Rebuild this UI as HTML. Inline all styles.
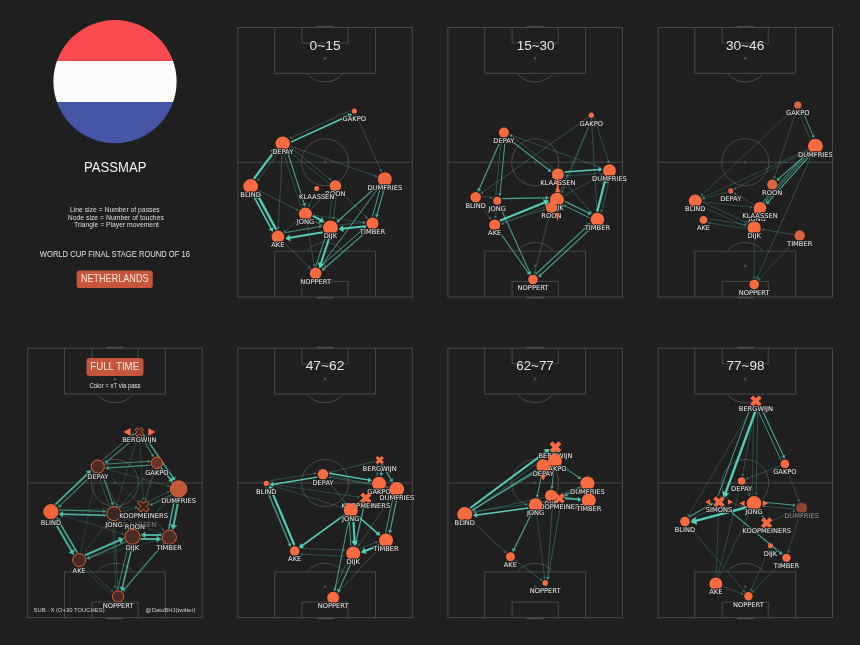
<!DOCTYPE html>
<html><head><meta charset="utf-8"><title>Passmap</title>
<style>html,body{margin:0;padding:0;background:#1f1f1f;overflow:hidden}svg{display:block;will-change:transform}text{font-family:"DejaVu Sans","Liberation Sans",sans-serif}</style>
</head><body>
<svg width="860" height="645" viewBox="0 0 860 645">
<rect width="860" height="645" fill="#1f1f1f"/>
<defs><clipPath id="fc"><circle cx="115" cy="81.6" r="61.6"/></clipPath></defs>
<g clip-path="url(#fc)"><rect x="50" y="18" width="130" height="43.2" fill="#f94b50"/><rect x="50" y="61" width="130" height="41.2" fill="#fbfbfb"/><rect x="50" y="102" width="130" height="45" fill="#4655a5"/></g>
<rect x="27.7" y="348.2" width="174.5" height="269.5" fill="none" stroke="#494949" stroke-width="1.0"/>
<line x1="27.7" y1="482.95" x2="202.2" y2="482.95" fill="none" stroke="#494949" stroke-width="1.0"/>
<circle cx="114.95" cy="482.95" r="23.5" fill="none" stroke="#494949" stroke-width="1.0"/>
<circle cx="114.95" cy="482.95" r="1.4" fill="#494949"/>
<path d="M64.52,348.2 L64.52,394.01 L165.38,394.01 L165.38,348.2" fill="none" stroke="#494949" stroke-width="1.0"/>
<path d="M91.92,348.2 L91.92,363.83 L137.98,363.83 L137.98,348.2" fill="none" stroke="#494949" stroke-width="1.0"/>
<circle cx="114.95" cy="379.19" r="1.4" fill="#494949"/>
<path d="M96.71,394.01 A23.5,23.5 0 0 0 133.19,394.01" fill="none" stroke="#494949" stroke-width="1.0"/>
<line x1="106.57" y1="347.6" x2="123.33" y2="347.6" stroke="#494949" stroke-width="2"/>
<path d="M64.52,617.7 L64.52,571.88 L165.38,571.88 L165.38,617.7" fill="none" stroke="#494949" stroke-width="1.0"/>
<path d="M91.92,617.7 L91.92,602.07 L137.98,602.07 L137.98,617.7" fill="none" stroke="#494949" stroke-width="1.0"/>
<circle cx="114.95" cy="586.71" r="1.4" fill="#494949"/>
<path d="M96.71,571.88 A23.5,23.5 0 0 1 133.19,571.88" fill="none" stroke="#494949" stroke-width="1.0"/>
<line x1="106.57" y1="618.3" x2="123.33" y2="618.3" stroke="#494949" stroke-width="2"/>
<line x1="137.07" y1="436.37" x2="106.32" y2="462.08" stroke="#56d8bf" stroke-width="1.2" stroke-opacity="0.5576"/><polygon points="104.61,463.52 108.47,463.15 105.65,459.78" fill="#56d8bf" fill-opacity="0.5576"/>
<line x1="102.19" y1="460.32" x2="133.15" y2="434.43" stroke="#56d8bf" stroke-width="0.9" stroke-opacity="0.5576"/><polygon points="134.66,433.18 131.39,433.63 133.63,436.31" fill="#56d8bf" fill-opacity="0.5576"/>
<line x1="141.57" y1="435.88" x2="152.81" y2="455.62" stroke="#56d8bf" stroke-width="0.9" stroke-opacity="0.5576"/><polygon points="153.78,457.33 153.92,454.03 150.88,455.76" fill="#56d8bf" fill-opacity="0.5576"/>
<line x1="143.54" y1="434.54" x2="173.83" y2="478.54" stroke="#56d8bf" stroke-width="1.4" stroke-opacity="0.7789999999999999"/><polygon points="175.26,480.62 175.28,476.23 171.16,479.07" fill="#56d8bf" fill-opacity="0.7789999999999999"/>
<line x1="171.85" y1="482.72" x2="141.25" y2="438.26" stroke="#56d8bf" stroke-width="0.8" stroke-opacity="0.3116"/><polygon points="140.14,436.64 140.41,439.86 143.04,438.04" fill="#56d8bf" fill-opacity="0.3116"/>
<line x1="150.54" y1="465.21" x2="107.49" y2="467.98" stroke="#56d8bf" stroke-width="1.3" stroke-opacity="0.5576"/><polygon points="105.11,468.13 108.66,470.26 108.36,465.57" fill="#56d8bf" fill-opacity="0.5576"/>
<line x1="105.06" y1="464.13" x2="148.53" y2="461.33" stroke="#56d8bf" stroke-width="1.0" stroke-opacity="0.5576"/><polygon points="150.48,461.21 147.57,459.49 147.81,463.28" fill="#56d8bf" fill-opacity="0.5576"/>
<line x1="161.05" y1="467.81" x2="171.2" y2="480.07" stroke="#56d8bf" stroke-width="1.6" stroke-opacity="0.7789999999999999"/><polygon points="172.99,482.22 172.59,477.36 168.28,480.93" fill="#56d8bf" fill-opacity="0.7789999999999999"/>
<line x1="55.28" y1="504.71" x2="89" y2="472.28" stroke="#56d8bf" stroke-width="1.8" stroke-opacity="0.7789999999999999"/><polygon points="91.22,470.15 85.9,470.96 90.2,475.43" fill="#56d8bf" fill-opacity="0.7789999999999999"/>
<line x1="93.85" y1="473.17" x2="59.52" y2="506.18" stroke="#56d8bf" stroke-width="1.2" stroke-opacity="0.5576"/><polygon points="57.91,507.74 61.74,507.1 58.69,503.93" fill="#56d8bf" fill-opacity="0.5576"/>
<line x1="102.09" y1="472.96" x2="112.56" y2="503.61" stroke="#56d8bf" stroke-width="1.3" stroke-opacity="0.5576"/><polygon points="113.33,505.86 114.46,501.88 110.01,503.4" fill="#56d8bf" fill-opacity="0.5576"/>
<line x1="109.48" y1="506.97" x2="98.87" y2="475.91" stroke="#56d8bf" stroke-width="0.8" stroke-opacity="0.3116"/><polygon points="98.24,474.06 97.63,477.23 100.66,476.19" fill="#56d8bf" fill-opacity="0.3116"/>
<line x1="106.04" y1="515.45" x2="61.71" y2="514.04" stroke="#56d8bf" stroke-width="1.8" stroke-opacity="0.7789999999999999"/><polygon points="58.63,513.95 62.93,517.18 63.13,510.99" fill="#56d8bf" fill-opacity="0.7789999999999999"/>
<line x1="58.96" y1="509.95" x2="104.13" y2="511.39" stroke="#56d8bf" stroke-width="1.2" stroke-opacity="0.5576"/><polygon points="106.37,511.46 103.24,509.16 103.1,513.56" fill="#56d8bf" fill-opacity="0.5576"/>
<line x1="53.22" y1="519.61" x2="72.19" y2="551.99" stroke="#56d8bf" stroke-width="2.0" stroke-opacity="0.7789999999999999"/><polygon points="73.89,554.89 74.39,549.02 68.52,552.46" fill="#56d8bf" fill-opacity="0.7789999999999999"/>
<line x1="77.24" y1="552.69" x2="57.98" y2="519.83" stroke="#56d8bf" stroke-width="1.6" stroke-opacity="0.7789999999999999"/><polygon points="56.57,517.42 56.18,522.29 61.01,519.45" fill="#56d8bf" fill-opacity="0.7789999999999999"/>
<line x1="85.09" y1="555.25" x2="120.75" y2="539.7" stroke="#56d8bf" stroke-width="2.2" stroke-opacity="0.7789999999999999"/><polygon points="124.08,538.24 117.84,536.93 120.8,543.71" fill="#56d8bf" fill-opacity="0.7789999999999999"/>
<line x1="125.5" y1="541.99" x2="88.69" y2="558.04" stroke="#56d8bf" stroke-width="1.3" stroke-opacity="0.5576"/><polygon points="86.51,559 90.56,559.79 88.68,555.48" fill="#56d8bf" fill-opacity="0.5576"/>
<line x1="140.78" y1="538.89" x2="158.02" y2="539.08" stroke="#56d8bf" stroke-width="2.0" stroke-opacity="0.7789999999999999"/><polygon points="161.38,539.12 156.62,535.66 156.54,542.46" fill="#56d8bf" fill-opacity="0.7789999999999999"/>
<line x1="161.22" y1="535.11" x2="143.98" y2="534.93" stroke="#56d8bf" stroke-width="2.0" stroke-opacity="0.7789999999999999"/><polygon points="140.62,534.89 145.38,538.34 145.46,531.54" fill="#56d8bf" fill-opacity="0.7789999999999999"/>
<line x1="178.84" y1="498.22" x2="173.35" y2="526.35" stroke="#56d8bf" stroke-width="2.2" stroke-opacity="0.7789999999999999"/><polygon points="172.66,529.93 177.28,525.53 170.02,524.11" fill="#56d8bf" fill-opacity="0.7789999999999999"/>
<line x1="168.77" y1="528.97" x2="174.47" y2="499.73" stroke="#56d8bf" stroke-width="1.4" stroke-opacity="0.7789999999999999"/><polygon points="174.95,497.25 171.81,500.31 176.72,501.27" fill="#56d8bf" fill-opacity="0.7789999999999999"/>
<line x1="171.42" y1="494.78" x2="151.3" y2="504.73" stroke="#56d8bf" stroke-width="1.0" stroke-opacity="0.5576"/><polygon points="149.54,505.59 152.89,506.06 151.21,502.65" fill="#56d8bf" fill-opacity="0.5576"/>
<line x1="147.95" y1="501.92" x2="168.07" y2="491.97" stroke="#56d8bf" stroke-width="0.8" stroke-opacity="0.3116"/><polygon points="169.82,491.11 166.61,490.91 168.02,493.78" fill="#56d8bf" fill-opacity="0.3116"/>
<line x1="132.39" y1="545.43" x2="122.13" y2="588.35" stroke="#56d8bf" stroke-width="1.5" stroke-opacity="0.7789999999999999"/><polygon points="121.51,590.94 124.97,587.86 119.82,586.63" fill="#56d8bf" fill-opacity="0.7789999999999999"/>
<line x1="117.67" y1="589.81" x2="128.09" y2="546.22" stroke="#56d8bf" stroke-width="0.9" stroke-opacity="0.5576"/><polygon points="128.55,544.31 126.19,546.63 129.6,547.44" fill="#56d8bf" fill-opacity="0.5576"/>
<line x1="163.98" y1="543.26" x2="123.76" y2="590.02" stroke="#56d8bf" stroke-width="1.3" stroke-opacity="0.5576"/><polygon points="122.21,591.82 126.21,590.78 122.64,587.71" fill="#56d8bf" fill-opacity="0.5576"/>
<line x1="114.29" y1="521.49" x2="117.68" y2="588.35" stroke="#56d8bf" stroke-width="0.8" stroke-opacity="0.3116"/><polygon points="117.78,590.31 119.24,587.43 116.04,587.59" fill="#56d8bf" fill-opacity="0.3116"/>
<line x1="84.52" y1="565" x2="112.08" y2="590.94" stroke="#56d8bf" stroke-width="0.7" stroke-opacity="0.3116"/><polygon points="113.51,592.28 112.57,589.2 110.38,591.53" fill="#56d8bf" fill-opacity="0.3116"/>
<line x1="101.07" y1="473.24" x2="127.91" y2="527.69" stroke="#56d8bf" stroke-width="0.7" stroke-opacity="0.3116"/><polygon points="128.77,529.44 128.97,526.23 126.1,527.64" fill="#56d8bf" fill-opacity="0.3116"/>
<line x1="118.78" y1="519.79" x2="126.05" y2="528.87" stroke="#56d8bf" stroke-width="0.8" stroke-opacity="0.3116"/><polygon points="127.27,530.4 126.77,527.21 124.27,529.21" fill="#56d8bf" fill-opacity="0.3116"/>
<line x1="58.55" y1="514.05" x2="122.69" y2="533.81" stroke="#56d8bf" stroke-width="0.6" stroke-opacity="0.3116"/><polygon points="124.56,534.39 122.36,532.03 121.42,535.09" fill="#56d8bf" fill-opacity="0.3116"/>
<line x1="152.71" y1="467.77" x2="120.07" y2="506.4" stroke="#56d8bf" stroke-width="0.7" stroke-opacity="0.3116"/><polygon points="118.8,507.89 121.83,506.79 119.39,504.72" fill="#56d8bf" fill-opacity="0.3116"/>
<line x1="137.94" y1="436.27" x2="116.73" y2="504.57" stroke="#56d8bf" stroke-width="0.6" stroke-opacity="0.3116"/><polygon points="116.15,506.44 118.51,504.24 115.46,503.29" fill="#56d8bf" fill-opacity="0.3116"/>
<line x1="139.56" y1="436.47" x2="143.16" y2="498.71" stroke="#56d8bf" stroke-width="0.6" stroke-opacity="0.3116"/><polygon points="143.27,500.67 144.71,497.78 141.52,497.97" fill="#56d8bf" fill-opacity="0.3116"/>
<line x1="172.35" y1="495.47" x2="139.46" y2="529.49" stroke="#56d8bf" stroke-width="0.8" stroke-opacity="0.3116"/><polygon points="138.1,530.9 141.2,530 138.89,527.78" fill="#56d8bf" fill-opacity="0.3116"/>
<line x1="121.47" y1="511.81" x2="136.23" y2="508.14" stroke="#56d8bf" stroke-width="0.6" stroke-opacity="0.3116"/><polygon points="138.13,507.66 135.02,506.79 135.8,509.89" fill="#56d8bf" fill-opacity="0.3116"/>
<line x1="83.58" y1="554.16" x2="108.17" y2="521.35" stroke="#56d8bf" stroke-width="0.6" stroke-opacity="0.3116"/><polygon points="109.34,519.78 106.38,521.06 108.94,522.98" fill="#56d8bf" fill-opacity="0.3116"/>
<line x1="80.63" y1="552.84" x2="96.01" y2="475.58" stroke="#56d8bf" stroke-width="0.5" stroke-opacity="0.3116"/><polygon points="96.39,473.66 94.28,476.09 97.42,476.72" fill="#56d8bf" fill-opacity="0.3116"/>
<line x1="104.93" y1="468.58" x2="168.23" y2="486.13" stroke="#56d8bf" stroke-width="0.6" stroke-opacity="0.3116"/><polygon points="170.12,486.65 167.85,484.36 166.99,487.44" fill="#56d8bf" fill-opacity="0.3116"/>
<line x1="155" y1="469.02" x2="145.82" y2="499.03" stroke="#56d8bf" stroke-width="0.6" stroke-opacity="0.3116"/><polygon points="145.25,500.91 147.6,498.7 144.54,497.76" fill="#56d8bf" fill-opacity="0.3116"/>
<line x1="121.08" y1="516.75" x2="160.22" y2="533.38" stroke="#56d8bf" stroke-width="0.6" stroke-opacity="0.3116"/><polygon points="162.02,534.15 160.07,531.58 158.82,534.53" fill="#56d8bf" fill-opacity="0.3116"/>
<line x1="147.33" y1="510.8" x2="162.97" y2="529.68" stroke="#56d8bf" stroke-width="0.7" stroke-opacity="0.3116"/><polygon points="164.22,531.19 163.67,528.02 161.21,530.06" fill="#56d8bf" fill-opacity="0.3116"/>
<line x1="111.31" y1="594.33" x2="83.74" y2="568.39" stroke="#56d8bf" stroke-width="0.6" stroke-opacity="0.3116"/><polygon points="82.32,567.05 83.26,570.13 85.45,567.8" fill="#56d8bf" fill-opacity="0.3116"/>
<line x1="103.39" y1="471.45" x2="137.86" y2="501.32" stroke="#56d8bf" stroke-width="0.5" stroke-opacity="0.3116"/><polygon points="139.34,502.61 138.27,499.56 136.17,501.98" fill="#56d8bf" fill-opacity="0.3116"/>
<line x1="58.89" y1="511.23" x2="136.01" y2="506.74" stroke="#56d8bf" stroke-width="0.5" stroke-opacity="0.3116"/><polygon points="137.97,506.63 135.08,505.19 135.27,508.39" fill="#56d8bf" fill-opacity="0.3116"/>
<line x1="86.28" y1="558.21" x2="159.74" y2="539.6" stroke="#56d8bf" stroke-width="0.5" stroke-opacity="0.3116"/><polygon points="161.64,539.12 158.53,538.25 159.32,541.35" fill="#56d8bf" fill-opacity="0.3116"/>
<line x1="115.77" y1="590.21" x2="112.39" y2="523.35" stroke="#56d8bf" stroke-width="0.5" stroke-opacity="0.3116"/><polygon points="112.29,521.39 110.83,524.27 114.03,524.11" fill="#56d8bf" fill-opacity="0.3116"/>
<line x1="154.86" y1="468.97" x2="135.59" y2="527.15" stroke="#56d8bf" stroke-width="0.5" stroke-opacity="0.3116"/><polygon points="134.98,529.02 137.38,526.86 134.34,525.85" fill="#56d8bf" fill-opacity="0.3116"/>
<text x="138.5" y="526.61" font-size="6.7" fill="#8a8a8a" text-anchor="middle" stroke="#1f1f1f" stroke-width="2" paint-order="stroke" stroke-linejoin="round">KLAASSEN</text>
<text x="134.9" y="529.41" font-size="6.7" fill="#eaeaea" text-anchor="middle" stroke="#1f1f1f" stroke-width="2" paint-order="stroke" stroke-linejoin="round">ROON</text>
<circle cx="97.8" cy="466.6" r="6.6" fill="#4b2a22" stroke="#e8603a" stroke-width="1"/>
<text x="97.8" y="479.21" font-size="6.7" fill="#efefef" text-anchor="middle" stroke="#1f1f1f" stroke-width="2" paint-order="stroke" stroke-linejoin="round">DEPAY</text>
<circle cx="156.9" cy="462.8" r="5.7" fill="#6b3526" stroke="#e8603a" stroke-width="1"/>
<text x="156.9" y="474.51" font-size="6.7" fill="#efefef" text-anchor="middle" stroke="#1f1f1f" stroke-width="2" paint-order="stroke" stroke-linejoin="round">GAKPO</text>
<circle cx="178.6" cy="489" r="8.2" fill="#c0583a" stroke="#e8603a" stroke-width="1"/>
<text x="178.6" y="503.21" font-size="6.7" fill="#efefef" text-anchor="middle" stroke="#1f1f1f" stroke-width="2" paint-order="stroke" stroke-linejoin="round">DUMFRIES</text>
<circle cx="50.9" cy="511.7" r="7.2" fill="#f0643c" stroke="#e8603a" stroke-width="1"/>
<text x="50.9" y="524.91" font-size="6.7" fill="#efefef" text-anchor="middle" stroke="#1f1f1f" stroke-width="2" paint-order="stroke" stroke-linejoin="round">BLIND</text>
<circle cx="113.9" cy="513.7" r="7" fill="#3a2620" stroke="#e8603a" stroke-width="1"/>
<text x="113.9" y="526.71" font-size="6.7" fill="#efefef" text-anchor="middle" stroke="#1f1f1f" stroke-width="2" paint-order="stroke" stroke-linejoin="round">JONG</text>
<circle cx="132.4" cy="536.8" r="7.6" fill="#4a2e25" stroke="#e8603a" stroke-width="1"/>
<text x="132.4" y="550.41" font-size="6.7" fill="#efefef" text-anchor="middle" stroke="#1f1f1f" stroke-width="2" paint-order="stroke" stroke-linejoin="round">DIJK</text>
<circle cx="169.2" cy="537.2" r="7.2" fill="#4a2e25" stroke="#e8603a" stroke-width="1"/>
<text x="169.2" y="550.41" font-size="6.7" fill="#efefef" text-anchor="middle" stroke="#1f1f1f" stroke-width="2" paint-order="stroke" stroke-linejoin="round">TIMBER</text>
<circle cx="79.2" cy="560" r="6.5" fill="#4a2a22" stroke="#e8603a" stroke-width="1"/>
<text x="79.2" y="572.51" font-size="6.7" fill="#efefef" text-anchor="middle" stroke="#1f1f1f" stroke-width="2" paint-order="stroke" stroke-linejoin="round">AKE</text>
<circle cx="118.1" cy="596.6" r="5.7" fill="#4a2a22" stroke="#e8603a" stroke-width="1"/>
<text x="118.1" y="608.31" font-size="6.7" fill="#efefef" text-anchor="middle" stroke="#1f1f1f" stroke-width="2" paint-order="stroke" stroke-linejoin="round">NOPPERT</text>
<polygon points="141.42,427.66 143.54,429.78 141.42,431.9 143.54,434.02 141.42,436.14 139.3,434.02 137.18,436.14 135.06,434.02 137.18,431.9 135.06,429.78 137.18,427.66 139.3,429.78" fill="#3a2620" stroke="#e8603a" stroke-width="1" stroke-linejoin="miter"/>
<text x="139.3" y="442.11" font-size="6.7" fill="#efefef" text-anchor="middle" stroke="#1f1f1f" stroke-width="2" paint-order="stroke" stroke-linejoin="round">BERGWIJN</text>
<polygon points="146.43,500.64 149.26,503.47 146.43,506.3 149.26,509.13 146.43,511.96 143.6,509.13 140.77,511.96 137.94,509.13 140.77,506.3 137.94,503.47 140.77,500.64 143.6,503.47" fill="#3a2620" stroke="#e8603a" stroke-width="1" stroke-linejoin="miter"/>
<text x="143.6" y="518.11" font-size="6.7" fill="#efefef" text-anchor="middle" stroke="#1f1f1f" stroke-width="2" paint-order="stroke" stroke-linejoin="round">KOOPMEINERS</text>
<polygon points="123.4,432 130.6,428 130.6,436" fill="#f86b40"/>
<polygon points="155.5,432 148.3,428 148.3,436" fill="#f86b40"/>
<rect x="237.8" y="27.5" width="174.5" height="269.5" fill="none" stroke="#494949" stroke-width="1.0"/>
<line x1="237.8" y1="162.25" x2="412.3" y2="162.25" fill="none" stroke="#494949" stroke-width="1.0"/>
<circle cx="325.05" cy="162.25" r="23.5" fill="none" stroke="#494949" stroke-width="1.0"/>
<circle cx="325.05" cy="162.25" r="1.4" fill="#494949"/>
<path d="M274.62,27.5 L274.62,73.31 L375.48,73.31 L375.48,27.5" fill="none" stroke="#494949" stroke-width="1.0"/>
<path d="M302.02,27.5 L302.02,43.13 L348.08,43.13 L348.08,27.5" fill="none" stroke="#494949" stroke-width="1.0"/>
<circle cx="325.05" cy="58.49" r="1.4" fill="#494949"/>
<path d="M306.81,73.31 A23.5,23.5 0 0 0 343.29,73.31" fill="none" stroke="#494949" stroke-width="1.0"/>
<line x1="316.67" y1="26.9" x2="333.43" y2="26.9" stroke="#494949" stroke-width="2"/>
<path d="M274.62,297 L274.62,251.19 L375.48,251.19 L375.48,297" fill="none" stroke="#494949" stroke-width="1.0"/>
<path d="M302.02,297 L302.02,281.37 L348.08,281.37 L348.08,297" fill="none" stroke="#494949" stroke-width="1.0"/>
<circle cx="325.05" cy="266.01" r="1.4" fill="#494949"/>
<path d="M306.81,251.19 A23.5,23.5 0 0 1 343.29,251.19" fill="none" stroke="#494949" stroke-width="1.0"/>
<line x1="316.67" y1="297.6" x2="333.43" y2="297.6" stroke="#494949" stroke-width="2"/>
<text x="309.6" y="49.5" font-size="12" fill="#e8e8e8" textLength="31" lengthAdjust="spacingAndGlyphs" stroke="#1f1f1f" stroke-width="1.6" paint-order="stroke" style="font-family:'Liberation Sans',sans-serif">0~15</text>
<line x1="253.86" y1="178.72" x2="274.24" y2="151.55" stroke="#56d8bf" stroke-width="2.2" stroke-opacity="0.95"/><polygon points="276.42,148.64 270.34,150.58 276.26,155.02" fill="#56d8bf" fill-opacity="0.95"/>
<line x1="279.5" y1="151.2" x2="258.12" y2="179.71" stroke="#56d8bf" stroke-width="0.8" stroke-opacity="0.38"/><polygon points="256.94,181.28 259.9,180 257.34,178.08" fill="#56d8bf" fill-opacity="0.38"/>
<line x1="252.69" y1="194.48" x2="271.59" y2="229.44" stroke="#56d8bf" stroke-width="1.5" stroke-opacity="0.95"/><polygon points="272.86,231.78 273.38,227.18 268.72,229.7" fill="#56d8bf" fill-opacity="0.95"/>
<line x1="276.28" y1="229.7" x2="257.98" y2="195.85" stroke="#56d8bf" stroke-width="2.4" stroke-opacity="0.95"/><polygon points="256.12,192.4 255.26,199.23 262.3,195.42" fill="#56d8bf" fill-opacity="0.95"/>
<line x1="290.81" y1="142.11" x2="349.67" y2="115.31" stroke="#56d8bf" stroke-width="1.6" stroke-opacity="0.95"/><polygon points="352.22,114.15 347.42,113.26 349.74,118.35" fill="#56d8bf" fill-opacity="0.95"/>
<line x1="350.38" y1="110.59" x2="290.75" y2="137.74" stroke="#56d8bf" stroke-width="0.7" stroke-opacity="0.38"/><polygon points="288.97,138.55 292.18,138.84 290.86,135.93" fill="#56d8bf" fill-opacity="0.38"/>
<line x1="355.69" y1="114.1" x2="380.9" y2="170.57" stroke="#56d8bf" stroke-width="0.7" stroke-opacity="0.38"/><polygon points="381.7,172.36 382.02,169.15 379.1,170.46" fill="#56d8bf" fill-opacity="0.38"/>
<line x1="290.25" y1="146.24" x2="375.78" y2="176.14" stroke="#56d8bf" stroke-width="0.7" stroke-opacity="0.38"/><polygon points="377.63,176.79 375.51,174.36 374.45,177.38" fill="#56d8bf" fill-opacity="0.38"/>
<line x1="290.19" y1="147.06" x2="330.14" y2="179.2" stroke="#56d8bf" stroke-width="0.7" stroke-opacity="0.38"/><polygon points="331.67,180.43 330.49,177.43 328.48,179.92" fill="#56d8bf" fill-opacity="0.38"/>
<line x1="329" y1="183.42" x2="289.05" y2="151.28" stroke="#56d8bf" stroke-width="0.6" stroke-opacity="0.38"/><polygon points="287.52,150.05 288.7,153.05 290.71,150.56" fill="#56d8bf" fill-opacity="0.38"/>
<line x1="287.06" y1="150.6" x2="304.44" y2="204.5" stroke="#56d8bf" stroke-width="1.2" stroke-opacity="0.68"/><polygon points="305.12,206.63 306.24,202.91 302.05,204.26" fill="#56d8bf" fill-opacity="0.68"/>
<line x1="301.26" y1="207.67" x2="283.79" y2="153.5" stroke="#56d8bf" stroke-width="0.6" stroke-opacity="0.38"/><polygon points="283.19,151.64 282.53,154.79 285.57,153.81" fill="#56d8bf" fill-opacity="0.38"/>
<line x1="282.29" y1="151.59" x2="278.36" y2="228.05" stroke="#56d8bf" stroke-width="0.7" stroke-opacity="0.38"/><polygon points="278.25,230.01 280,227.3 276.8,227.13" fill="#56d8bf" fill-opacity="0.38"/>
<line x1="257.83" y1="190.04" x2="297.31" y2="209.92" stroke="#56d8bf" stroke-width="0.7" stroke-opacity="0.38"/><polygon points="299.06,210.81 297.28,208.12 295.84,210.98" fill="#56d8bf" fill-opacity="0.38"/>
<line x1="312.76" y1="215.78" x2="321.42" y2="220.56" stroke="#56d8bf" stroke-width="2.0" stroke-opacity="0.95"/><polygon points="324.36,222.18 321.8,216.89 318.52,222.84" fill="#56d8bf" fill-opacity="0.95"/>
<line x1="322.25" y1="225.59" x2="312.37" y2="220.13" stroke="#56d8bf" stroke-width="0.9" stroke-opacity="0.68"/><polygon points="310.65,219.18 312.25,222.07 313.95,219" fill="#56d8bf" fill-opacity="0.68"/>
<line x1="310.74" y1="209.02" x2="329.29" y2="191.7" stroke="#56d8bf" stroke-width="0.8" stroke-opacity="0.38"/><polygon points="330.72,190.37 327.58,191.11 329.77,193.45" fill="#56d8bf" fill-opacity="0.38"/>
<line x1="284.38" y1="232.73" x2="320.07" y2="226.55" stroke="#56d8bf" stroke-width="0.9" stroke-opacity="0.68"/><polygon points="322.01,226.21 318.95,224.96 319.55,228.41" fill="#56d8bf" fill-opacity="0.68"/>
<line x1="322.83" y1="232.16" x2="288.52" y2="238.1" stroke="#56d8bf" stroke-width="2.0" stroke-opacity="0.95"/><polygon points="285.21,238.68 290.52,241.21 289.36,234.51" fill="#56d8bf" fill-opacity="0.95"/>
<line x1="299.79" y1="218.67" x2="284.71" y2="231.23" stroke="#56d8bf" stroke-width="0.7" stroke-opacity="0.38"/><polygon points="283.2,232.48 286.38,231.92 284.33,229.46" fill="#56d8bf" fill-opacity="0.38"/>
<line x1="365.93" y1="226.27" x2="341.9" y2="228.66" stroke="#56d8bf" stroke-width="2.0" stroke-opacity="0.95"/><polygon points="338.56,229 343.67,231.9 343,225.14" fill="#56d8bf" fill-opacity="0.95"/>
<line x1="338.36" y1="225" x2="363.78" y2="222.46" stroke="#56d8bf" stroke-width="0.7" stroke-opacity="0.38"/><polygon points="365.73,222.27 362.79,220.95 363.11,224.14" fill="#56d8bf" fill-opacity="0.38"/>
<line x1="384.64" y1="187.35" x2="376.79" y2="215.62" stroke="#56d8bf" stroke-width="1.2" stroke-opacity="0.68"/><polygon points="376.19,217.78 379.17,215.28 374.93,214.1" fill="#56d8bf" fill-opacity="0.68"/>
<line x1="372.39" y1="216.51" x2="380.32" y2="187.98" stroke="#56d8bf" stroke-width="1.0" stroke-opacity="0.68"/><polygon points="380.84,186.09 378.26,188.28 381.92,189.29" fill="#56d8bf" fill-opacity="0.68"/>
<line x1="378.98" y1="184.49" x2="338.04" y2="220.99" stroke="#56d8bf" stroke-width="1.2" stroke-opacity="0.68"/><polygon points="336.37,222.48 340.22,221.99 337.3,218.7" fill="#56d8bf" fill-opacity="0.68"/>
<line x1="380.18" y1="185.58" x2="320.55" y2="266.67" stroke="#56d8bf" stroke-width="1.0" stroke-opacity="0.68"/><polygon points="319.39,268.24 322.58,267.11 319.52,264.86" fill="#56d8bf" fill-opacity="0.68"/>
<line x1="329.77" y1="236.22" x2="320.52" y2="264.73" stroke="#56d8bf" stroke-width="2.0" stroke-opacity="0.95"/><polygon points="319.48,267.93 324.19,264.41 317.73,262.31" fill="#56d8bf" fill-opacity="0.95"/>
<line x1="315.74" y1="266.5" x2="325.42" y2="236.66" stroke="#56d8bf" stroke-width="1.0" stroke-opacity="0.68"/><polygon points="326.03,234.79 323.36,236.87 326.97,238.04" fill="#56d8bf" fill-opacity="0.68"/>
<line x1="368.7" y1="229.58" x2="323.42" y2="269.21" stroke="#56d8bf" stroke-width="1.2" stroke-opacity="0.68"/><polygon points="321.73,270.69 325.59,270.24 322.69,266.93" fill="#56d8bf" fill-opacity="0.68"/>
<line x1="319.25" y1="267.55" x2="364.74" y2="227.73" stroke="#56d8bf" stroke-width="1.0" stroke-opacity="0.68"/><polygon points="366.22,226.44 362.86,226.86 365.36,229.72" fill="#56d8bf" fill-opacity="0.68"/>
<line x1="336.6" y1="192.79" x2="333.57" y2="218.15" stroke="#56d8bf" stroke-width="0.8" stroke-opacity="0.38"/><polygon points="333.34,220.09 335.26,217.5 332.08,217.12" fill="#56d8bf" fill-opacity="0.38"/>
<line x1="329.39" y1="219.42" x2="332.42" y2="194.06" stroke="#56d8bf" stroke-width="0.7" stroke-opacity="0.38"/><polygon points="332.65,192.12 330.73,194.71 333.91,195.09" fill="#56d8bf" fill-opacity="0.38"/>
<line x1="340.04" y1="190.7" x2="366.49" y2="217.51" stroke="#56d8bf" stroke-width="0.7" stroke-opacity="0.38"/><polygon points="367.86,218.9 367.04,215.79 364.76,218.03" fill="#56d8bf" fill-opacity="0.38"/>
<line x1="283" y1="241.84" x2="309.59" y2="267.58" stroke="#56d8bf" stroke-width="0.7" stroke-opacity="0.38"/><polygon points="311,268.95 310.1,265.85 307.88,268.15" fill="#56d8bf" fill-opacity="0.38"/>
<line x1="306.64" y1="221.19" x2="314.19" y2="265.16" stroke="#56d8bf" stroke-width="0.6" stroke-opacity="0.38"/><polygon points="314.52,267.09 315.62,264.06 312.47,264.6" fill="#56d8bf" fill-opacity="0.38"/>
<line x1="312.63" y1="215.03" x2="364.03" y2="222.39" stroke="#56d8bf" stroke-width="0.6" stroke-opacity="0.38"/><polygon points="365.97,222.67 363.42,220.68 362.97,223.85" fill="#56d8bf" fill-opacity="0.38"/>
<line x1="315.36" y1="191.62" x2="309.08" y2="205.72" stroke="#56d8bf" stroke-width="0.6" stroke-opacity="0.38"/><polygon points="308.29,207.51 310.89,205.61 307.96,204.3" fill="#56d8bf" fill-opacity="0.38"/>
<circle cx="354.3" cy="111" r="2.6" fill="#f86b40"/>
<text x="354.3" y="121.31" font-size="6.7" fill="#efefef" text-anchor="middle" stroke="#1f1f1f" stroke-width="2" paint-order="stroke" stroke-linejoin="round">GAKPO</text>
<circle cx="282.7" cy="143.6" r="7.2" fill="#f86b40"/>
<text x="282.7" y="153.91" font-size="6.7" fill="#efefef" text-anchor="middle" stroke="#1f1f1f" stroke-width="2" paint-order="stroke" stroke-linejoin="round">DEPAY</text>
<circle cx="250.6" cy="186.4" r="7.3" fill="#f86b40"/>
<text x="250.6" y="196.71" font-size="6.7" fill="#efefef" text-anchor="middle" stroke="#1f1f1f" stroke-width="2" paint-order="stroke" stroke-linejoin="round">BLIND</text>
<circle cx="384.8" cy="179.3" r="7" fill="#ec6640"/>
<text x="384.8" y="189.61" font-size="6.7" fill="#efefef" text-anchor="middle" stroke="#1f1f1f" stroke-width="2" paint-order="stroke" stroke-linejoin="round">DUMFRIES</text>
<circle cx="335.4" cy="186" r="5.8" fill="#f86b40"/>
<text x="335.4" y="196.31" font-size="6.7" fill="#efefef" text-anchor="middle" stroke="#1f1f1f" stroke-width="2" paint-order="stroke" stroke-linejoin="round">ROON</text>
<circle cx="316.7" cy="188.6" r="2.5" fill="#f86b40"/>
<text x="316.7" y="198.91" font-size="6.7" fill="#efefef" text-anchor="middle" stroke="#1f1f1f" stroke-width="2" paint-order="stroke" stroke-linejoin="round">KLAASSEN</text>
<circle cx="305.4" cy="214" r="6.5" fill="#f86b40"/>
<text x="305.4" y="224.31" font-size="6.7" fill="#efefef" text-anchor="middle" stroke="#1f1f1f" stroke-width="2" paint-order="stroke" stroke-linejoin="round">JONG</text>
<circle cx="330.4" cy="227.8" r="7.4" fill="#f86b40"/>
<text x="330.4" y="238.11" font-size="6.7" fill="#efefef" text-anchor="middle" stroke="#1f1f1f" stroke-width="2" paint-order="stroke" stroke-linejoin="round">DIJK</text>
<circle cx="277.9" cy="236.9" r="6.3" fill="#f86b40"/>
<text x="277.9" y="247.21" font-size="6.7" fill="#efefef" text-anchor="middle" stroke="#1f1f1f" stroke-width="2" paint-order="stroke" stroke-linejoin="round">AKE</text>
<circle cx="372.5" cy="223.6" r="6" fill="#f86b40"/>
<text x="372.5" y="233.91" font-size="6.7" fill="#efefef" text-anchor="middle" stroke="#1f1f1f" stroke-width="2" paint-order="stroke" stroke-linejoin="round">TIMBER</text>
<circle cx="315.6" cy="273.4" r="5.8" fill="#f86b40"/>
<text x="315.6" y="283.71" font-size="6.7" fill="#efefef" text-anchor="middle" stroke="#1f1f1f" stroke-width="2" paint-order="stroke" stroke-linejoin="round">NOPPERT</text>
<rect x="447.9" y="27.5" width="174.5" height="269.5" fill="none" stroke="#494949" stroke-width="1.0"/>
<line x1="447.9" y1="162.25" x2="622.4" y2="162.25" fill="none" stroke="#494949" stroke-width="1.0"/>
<circle cx="535.15" cy="162.25" r="23.5" fill="none" stroke="#494949" stroke-width="1.0"/>
<circle cx="535.15" cy="162.25" r="1.4" fill="#494949"/>
<path d="M484.72,27.5 L484.72,73.31 L585.58,73.31 L585.58,27.5" fill="none" stroke="#494949" stroke-width="1.0"/>
<path d="M512.12,27.5 L512.12,43.13 L558.18,43.13 L558.18,27.5" fill="none" stroke="#494949" stroke-width="1.0"/>
<circle cx="535.15" cy="58.49" r="1.4" fill="#494949"/>
<path d="M516.91,73.31 A23.5,23.5 0 0 0 553.39,73.31" fill="none" stroke="#494949" stroke-width="1.0"/>
<line x1="526.77" y1="26.9" x2="543.53" y2="26.9" stroke="#494949" stroke-width="2"/>
<path d="M484.72,297 L484.72,251.19 L585.58,251.19 L585.58,297" fill="none" stroke="#494949" stroke-width="1.0"/>
<path d="M512.12,297 L512.12,281.37 L558.18,281.37 L558.18,297" fill="none" stroke="#494949" stroke-width="1.0"/>
<circle cx="535.15" cy="266.01" r="1.4" fill="#494949"/>
<path d="M516.91,251.19 A23.5,23.5 0 0 1 553.39,251.19" fill="none" stroke="#494949" stroke-width="1.0"/>
<line x1="526.77" y1="297.6" x2="543.53" y2="297.6" stroke="#494949" stroke-width="2"/>
<text x="516.7" y="49.5" font-size="12" fill="#e8e8e8" textLength="37.8" lengthAdjust="spacingAndGlyphs" stroke="#1f1f1f" stroke-width="1.6" paint-order="stroke" style="font-family:'Liberation Sans',sans-serif">15~30</text>
<line x1="588.53" y1="117.17" x2="482.11" y2="192.65" stroke="#56d8bf" stroke-width="0.7" stroke-opacity="0.38"/><polygon points="480.51,193.79 483.72,193.47 481.87,190.86" fill="#56d8bf" fill-opacity="0.38"/>
<line x1="591.87" y1="119.1" x2="562.36" y2="191.6" stroke="#56d8bf" stroke-width="0.7" stroke-opacity="0.38"/><polygon points="561.62,193.42 564.16,191.42 561.19,190.22" fill="#56d8bf" fill-opacity="0.38"/>
<line x1="591.79" y1="119.11" x2="556.43" y2="200.9" stroke="#56d8bf" stroke-width="0.7" stroke-opacity="0.38"/><polygon points="555.66,202.69 558.24,200.76 555.3,199.49" fill="#56d8bf" fill-opacity="0.38"/>
<line x1="594.26" y1="117.81" x2="608.58" y2="161.57" stroke="#56d8bf" stroke-width="0.7" stroke-opacity="0.38"/><polygon points="609.19,163.43 609.84,160.27 606.8,161.27" fill="#56d8bf" fill-opacity="0.38"/>
<line x1="591.5" y1="118.59" x2="596.85" y2="210.16" stroke="#56d8bf" stroke-width="0.7" stroke-opacity="0.38"/><polygon points="596.97,212.11 598.4,209.22 595.21,209.41" fill="#56d8bf" fill-opacity="0.38"/>
<line x1="507.26" y1="137.73" x2="549.57" y2="170.48" stroke="#56d8bf" stroke-width="1.3" stroke-opacity="0.68"/><polygon points="551.46,171.94 550.21,168 547.33,171.72" fill="#56d8bf" fill-opacity="0.68"/>
<line x1="553.75" y1="168.66" x2="511.1" y2="135.65" stroke="#56d8bf" stroke-width="0.7" stroke-opacity="0.38"/><polygon points="509.55,134.45 510.79,137.43 512.75,134.89" fill="#56d8bf" fill-opacity="0.38"/>
<line x1="602.64" y1="168.32" x2="511.01" y2="135.17" stroke="#56d8bf" stroke-width="0.7" stroke-opacity="0.38"/><polygon points="509.17,134.5 511.25,136.96 512.34,133.95" fill="#56d8bf" fill-opacity="0.38"/>
<line x1="501.58" y1="137.92" x2="478.96" y2="189.74" stroke="#56d8bf" stroke-width="1.2" stroke-opacity="0.68"/><polygon points="478.06,191.79 481.36,189.74 477.32,187.98" fill="#56d8bf" fill-opacity="0.68"/>
<line x1="505.33" y1="138.57" x2="499.92" y2="194.36" stroke="#56d8bf" stroke-width="1.0" stroke-opacity="0.68"/><polygon points="499.73,196.31 501.9,193.71 498.11,193.34" fill="#56d8bf" fill-opacity="0.68"/>
<line x1="495.77" y1="195.73" x2="501.18" y2="139.93" stroke="#56d8bf" stroke-width="0.7" stroke-opacity="0.38"/><polygon points="501.37,137.98 499.51,140.61 502.69,140.92" fill="#56d8bf" fill-opacity="0.38"/>
<line x1="564.54" y1="171.93" x2="599.76" y2="169.47" stroke="#56d8bf" stroke-width="1.4" stroke-opacity="0.95"/><polygon points="602.28,169.3 598.51,167.06 598.86,172.04" fill="#56d8bf" fill-opacity="0.95"/>
<line x1="602.36" y1="173.3" x2="566.58" y2="175.8" stroke="#56d8bf" stroke-width="0.6" stroke-opacity="0.38"/><polygon points="564.62,175.94 567.53,177.34 567.31,174.14" fill="#56d8bf" fill-opacity="0.38"/>
<line x1="597.29" y1="211.64" x2="604.97" y2="180.74" stroke="#56d8bf" stroke-width="2.2" stroke-opacity="0.95"/><polygon points="605.85,177.21 601,181.36 608.18,183.15" fill="#56d8bf" fill-opacity="0.95"/>
<line x1="609.68" y1="178.37" x2="601.6" y2="210.9" stroke="#56d8bf" stroke-width="0.8" stroke-opacity="0.38"/><polygon points="601.13,212.8 603.35,210.47 600.25,209.7" fill="#56d8bf" fill-opacity="0.38"/>
<line x1="499.79" y1="220.68" x2="545.73" y2="202.07" stroke="#56d8bf" stroke-width="2.2" stroke-opacity="0.95"/><polygon points="549.11,200.7 542.9,199.22 545.68,206.08" fill="#56d8bf" fill-opacity="0.95"/>
<line x1="550.42" y1="204.48" x2="502.92" y2="223.73" stroke="#56d8bf" stroke-width="0.7" stroke-opacity="0.38"/><polygon points="501.1,224.46 504.3,224.89 503.1,221.93" fill="#56d8bf" fill-opacity="0.38"/>
<line x1="502.07" y1="198.62" x2="546.89" y2="197.87" stroke="#56d8bf" stroke-width="1.3" stroke-opacity="0.68"/><polygon points="549.27,197.83 545.83,195.54 545.91,200.23" fill="#56d8bf" fill-opacity="0.68"/>
<line x1="482.04" y1="196.2" x2="491.14" y2="197.68" stroke="#56d8bf" stroke-width="0.7" stroke-opacity="0.38"/><polygon points="493.08,197.99 490.57,195.96 490.06,199.12" fill="#56d8bf" fill-opacity="0.38"/>
<line x1="496.79" y1="205.47" x2="495.56" y2="216.89" stroke="#56d8bf" stroke-width="0.7" stroke-opacity="0.38"/><polygon points="495.35,218.83 497.24,216.22 494.06,215.88" fill="#56d8bf" fill-opacity="0.38"/>
<line x1="499.28" y1="205.07" x2="529.9" y2="272.67" stroke="#56d8bf" stroke-width="1.1" stroke-opacity="0.68"/><polygon points="530.77,274.58 531.4,271 527.67,272.69" fill="#56d8bf" fill-opacity="0.68"/>
<line x1="498.32" y1="230.06" x2="528.69" y2="273.36" stroke="#56d8bf" stroke-width="1.1" stroke-opacity="0.68"/><polygon points="529.9,275.08 529.85,271.45 526.5,273.8" fill="#56d8bf" fill-opacity="0.68"/>
<line x1="564.79" y1="201.33" x2="589.49" y2="213.41" stroke="#56d8bf" stroke-width="1.3" stroke-opacity="0.68"/><polygon points="591.63,214.45 589.61,210.85 587.54,215.07" fill="#56d8bf" fill-opacity="0.68"/>
<line x1="589.69" y1="217.96" x2="564.61" y2="205.7" stroke="#56d8bf" stroke-width="1.0" stroke-opacity="0.68"/><polygon points="562.85,204.83 564.53,207.77 566.2,204.36" fill="#56d8bf" fill-opacity="0.68"/>
<line x1="593.2" y1="226.14" x2="539.95" y2="275.76" stroke="#56d8bf" stroke-width="1.2" stroke-opacity="0.68"/><polygon points="538.31,277.28 542.16,276.71 539.16,273.49" fill="#56d8bf" fill-opacity="0.68"/>
<line x1="535.73" y1="274.22" x2="588.98" y2="224.61" stroke="#56d8bf" stroke-width="1.2" stroke-opacity="0.68"/><polygon points="590.62,223.08 586.78,223.65 589.78,226.87" fill="#56d8bf" fill-opacity="0.68"/>
<line x1="549.84" y1="213.6" x2="534.82" y2="272.37" stroke="#56d8bf" stroke-width="0.7" stroke-opacity="0.38"/><polygon points="534.34,274.27 536.58,271.95 533.48,271.16" fill="#56d8bf" fill-opacity="0.38"/>
<line x1="500.72" y1="223.05" x2="543.69" y2="209.86" stroke="#56d8bf" stroke-width="0.7" stroke-opacity="0.38"/><polygon points="545.57,209.29 542.42,208.58 543.36,211.64" fill="#56d8bf" fill-opacity="0.38"/>
<line x1="562.38" y1="179.52" x2="591.23" y2="212.46" stroke="#56d8bf" stroke-width="0.7" stroke-opacity="0.38"/><polygon points="592.52,213.93 591.88,210.77 589.48,212.88" fill="#56d8bf" fill-opacity="0.38"/>
<line x1="563.74" y1="195.94" x2="601.56" y2="175.16" stroke="#56d8bf" stroke-width="0.6" stroke-opacity="0.38"/><polygon points="603.28,174.22 600.05,174.16 601.59,176.97" fill="#56d8bf" fill-opacity="0.38"/>
<line x1="557.63" y1="181.19" x2="557.28" y2="190.15" stroke="#56d8bf" stroke-width="1.0" stroke-opacity="0.68"/><polygon points="557.2,192.11 559.21,189.38 555.41,189.23" fill="#56d8bf" fill-opacity="0.68"/>
<line x1="479.15" y1="202.23" x2="490.14" y2="218.25" stroke="#56d8bf" stroke-width="0.6" stroke-opacity="0.38"/><polygon points="491.25,219.87 490.99,216.66 488.35,218.47" fill="#56d8bf" fill-opacity="0.38"/>
<circle cx="591.3" cy="115.2" r="2.6" fill="#f86b40"/>
<text x="591.3" y="125.51" font-size="6.7" fill="#efefef" text-anchor="middle" stroke="#1f1f1f" stroke-width="2" paint-order="stroke" stroke-linejoin="round">GAKPO</text>
<circle cx="503.9" cy="132.6" r="5" fill="#f86b40"/>
<text x="503.9" y="142.91" font-size="6.7" fill="#efefef" text-anchor="middle" stroke="#1f1f1f" stroke-width="2" paint-order="stroke" stroke-linejoin="round">DEPAY</text>
<circle cx="609.5" cy="170.8" r="6.5" fill="#f86b40"/>
<text x="609.5" y="181.11" font-size="6.7" fill="#efefef" text-anchor="middle" stroke="#1f1f1f" stroke-width="2" paint-order="stroke" stroke-linejoin="round">DUMFRIES</text>
<circle cx="557.9" cy="174.4" r="6" fill="#f86b40"/>
<text x="557.9" y="184.71" font-size="6.7" fill="#efefef" text-anchor="middle" stroke="#1f1f1f" stroke-width="2" paint-order="stroke" stroke-linejoin="round">KLAASSEN</text>
<circle cx="475.7" cy="197.2" r="5.3" fill="#f86b40"/>
<text x="475.7" y="207.51" font-size="6.7" fill="#efefef" text-anchor="middle" stroke="#1f1f1f" stroke-width="2" paint-order="stroke" stroke-linejoin="round">BLIND</text>
<circle cx="497.3" cy="200.7" r="4" fill="#f86b40"/>
<text x="497.3" y="211.01" font-size="6.7" fill="#efefef" text-anchor="middle" stroke="#1f1f1f" stroke-width="2" paint-order="stroke" stroke-linejoin="round">JONG</text>
<circle cx="494.7" cy="224.9" r="5.5" fill="#f86b40"/>
<text x="494.7" y="235.21" font-size="6.7" fill="#efefef" text-anchor="middle" stroke="#1f1f1f" stroke-width="2" paint-order="stroke" stroke-linejoin="round">AKE</text>
<circle cx="556.9" cy="199.7" r="7" fill="#f86b40"/>
<text x="556.9" y="210.01" font-size="6.7" fill="#efefef" text-anchor="middle" stroke="#1f1f1f" stroke-width="2" paint-order="stroke" stroke-linejoin="round">DIJK</text>
<circle cx="551.4" cy="207.5" r="5.5" fill="#f86b40"/>
<text x="551.4" y="217.81" font-size="6.7" fill="#efefef" text-anchor="middle" stroke="#1f1f1f" stroke-width="2" paint-order="stroke" stroke-linejoin="round">ROON</text>
<circle cx="597.4" cy="219.5" r="6.8" fill="#f86b40"/>
<text x="597.4" y="229.81" font-size="6.7" fill="#efefef" text-anchor="middle" stroke="#1f1f1f" stroke-width="2" paint-order="stroke" stroke-linejoin="round">TIMBER</text>
<circle cx="533" cy="279.5" r="4.8" fill="#f86b40"/>
<text x="533" y="289.81" font-size="6.7" fill="#efefef" text-anchor="middle" stroke="#1f1f1f" stroke-width="2" paint-order="stroke" stroke-linejoin="round">NOPPERT</text>
<rect x="556.7" y="180.5" width="2" height="7" fill="#f86b40"/>
<polygon points="557.7,184.8 560.3,192.2 555.1,192.2" fill="#f86b40"/>
<polygon points="555.6,213 559.6,213 557.6,221.6" fill="#f86b40"/>
<rect x="658" y="27.5" width="174.5" height="269.5" fill="none" stroke="#494949" stroke-width="1.0"/>
<line x1="658" y1="162.25" x2="832.5" y2="162.25" fill="none" stroke="#494949" stroke-width="1.0"/>
<circle cx="745.25" cy="162.25" r="23.5" fill="none" stroke="#494949" stroke-width="1.0"/>
<circle cx="745.25" cy="162.25" r="1.4" fill="#494949"/>
<path d="M694.82,27.5 L694.82,73.31 L795.68,73.31 L795.68,27.5" fill="none" stroke="#494949" stroke-width="1.0"/>
<path d="M722.22,27.5 L722.22,43.13 L768.28,43.13 L768.28,27.5" fill="none" stroke="#494949" stroke-width="1.0"/>
<circle cx="745.25" cy="58.49" r="1.4" fill="#494949"/>
<path d="M727.01,73.31 A23.5,23.5 0 0 0 763.49,73.31" fill="none" stroke="#494949" stroke-width="1.0"/>
<line x1="736.87" y1="26.9" x2="753.63" y2="26.9" stroke="#494949" stroke-width="2"/>
<path d="M694.82,297 L694.82,251.19 L795.68,251.19 L795.68,297" fill="none" stroke="#494949" stroke-width="1.0"/>
<path d="M722.22,297 L722.22,281.37 L768.28,281.37 L768.28,297" fill="none" stroke="#494949" stroke-width="1.0"/>
<circle cx="745.25" cy="266.01" r="1.4" fill="#494949"/>
<path d="M727.01,251.19 A23.5,23.5 0 0 1 763.49,251.19" fill="none" stroke="#494949" stroke-width="1.0"/>
<line x1="736.87" y1="297.6" x2="753.63" y2="297.6" stroke="#494949" stroke-width="2"/>
<text x="725.9" y="49.5" font-size="12" fill="#e8e8e8" textLength="38.4" lengthAdjust="spacingAndGlyphs" stroke="#1f1f1f" stroke-width="1.6" paint-order="stroke" style="font-family:'Liberation Sans',sans-serif">30~46</text>
<line x1="801.41" y1="108.45" x2="813.29" y2="136.26" stroke="#56d8bf" stroke-width="0.9" stroke-opacity="0.68"/><polygon points="814.06,138.07 814.57,134.8 811.35,136.18" fill="#56d8bf" fill-opacity="0.68"/>
<line x1="810.3" y1="139.45" x2="798.42" y2="111.64" stroke="#56d8bf" stroke-width="0.7" stroke-opacity="0.38"/><polygon points="797.65,109.84 797.28,113.04 800.22,111.79" fill="#56d8bf" fill-opacity="0.38"/>
<line x1="794.52" y1="108.18" x2="701.91" y2="194.91" stroke="#56d8bf" stroke-width="0.6" stroke-opacity="0.38"/><polygon points="700.48,196.25 703.62,195.5 701.43,193.16" fill="#56d8bf" fill-opacity="0.38"/>
<line x1="796.42" y1="109.38" x2="774.52" y2="177.4" stroke="#56d8bf" stroke-width="0.7" stroke-opacity="0.38"/><polygon points="773.92,179.27 776.3,177.09 773.25,176.11" fill="#56d8bf" fill-opacity="0.38"/>
<line x1="809.19" y1="151.81" x2="777.96" y2="179.49" stroke="#56d8bf" stroke-width="1.1" stroke-opacity="0.68"/><polygon points="776.39,180.88 780,180.43 777.28,177.36" fill="#56d8bf" fill-opacity="0.68"/>
<line x1="811.35" y1="153.82" x2="767.62" y2="202.6" stroke="#56d8bf" stroke-width="1.3" stroke-opacity="0.68"/><polygon points="766.03,204.37 770.05,203.41 766.55,200.27" fill="#56d8bf" fill-opacity="0.68"/>
<line x1="763.18" y1="201.55" x2="807.2" y2="152.46" stroke="#56d8bf" stroke-width="1.0" stroke-opacity="0.68"/><polygon points="808.5,151 805.22,151.81 808.05,154.35" fill="#56d8bf" fill-opacity="0.68"/>
<line x1="809.84" y1="152.46" x2="760.73" y2="206.87" stroke="#56d8bf" stroke-width="1.0" stroke-opacity="0.68"/><polygon points="759.41,208.33 762.7,207.52 759.88,204.98" fill="#56d8bf" fill-opacity="0.68"/>
<line x1="807.85" y1="149.75" x2="703.54" y2="197.34" stroke="#56d8bf" stroke-width="0.6" stroke-opacity="0.38"/><polygon points="701.76,198.15 704.97,198.45 703.64,195.53" fill="#56d8bf" fill-opacity="0.38"/>
<line x1="808.06" y1="150.17" x2="735.27" y2="188.5" stroke="#56d8bf" stroke-width="0.6" stroke-opacity="0.38"/><polygon points="733.53,189.41 736.75,189.52 735.26,186.69" fill="#56d8bf" fill-opacity="0.38"/>
<line x1="753.96" y1="204.56" x2="735.15" y2="193.51" stroke="#56d8bf" stroke-width="0.6" stroke-opacity="0.38"/><polygon points="733.46,192.52 735.06,195.32 736.68,192.56" fill="#56d8bf" fill-opacity="0.38"/>
<line x1="702.77" y1="202.32" x2="746.62" y2="222.42" stroke="#56d8bf" stroke-width="0.7" stroke-opacity="0.38"/><polygon points="748.4,223.24 746.52,220.62 745.19,223.53" fill="#56d8bf" fill-opacity="0.38"/>
<line x1="746.55" y1="226.79" x2="702.7" y2="206.69" stroke="#56d8bf" stroke-width="0.6" stroke-opacity="0.38"/><polygon points="700.92,205.88 702.8,208.5 704.13,205.59" fill="#56d8bf" fill-opacity="0.38"/>
<line x1="708.36" y1="218.66" x2="745.38" y2="224.65" stroke="#56d8bf" stroke-width="0.7" stroke-opacity="0.38"/><polygon points="747.31,224.96 744.8,222.93 744.29,226.09" fill="#56d8bf" fill-opacity="0.38"/>
<line x1="746.48" y1="228.88" x2="709.46" y2="222.89" stroke="#56d8bf" stroke-width="0.7" stroke-opacity="0.38"/><polygon points="707.52,222.58 710.03,224.6 710.54,221.44" fill="#56d8bf" fill-opacity="0.38"/>
<line x1="702.56" y1="201.89" x2="751.29" y2="207.16" stroke="#56d8bf" stroke-width="0.6" stroke-opacity="0.38"/><polygon points="753.24,207.37 750.63,205.48 750.28,208.66" fill="#56d8bf" fill-opacity="0.38"/>
<line x1="727.43" y1="191.84" x2="704.01" y2="198.59" stroke="#56d8bf" stroke-width="0.6" stroke-opacity="0.38"/><polygon points="702.12,199.13 705.26,199.9 704.37,196.82" fill="#56d8bf" fill-opacity="0.38"/>
<line x1="793.78" y1="234.54" x2="763.34" y2="229.59" stroke="#56d8bf" stroke-width="0.7" stroke-opacity="0.38"/><polygon points="761.41,229.27 763.91,231.3 764.43,228.14" fill="#56d8bf" fill-opacity="0.38"/>
<line x1="754.2" y1="235.6" x2="754.2" y2="277.24" stroke="#56d8bf" stroke-width="0.6" stroke-opacity="0.38"/><polygon points="754.2,279.2 755.8,276.4 752.6,276.4" fill="#56d8bf" fill-opacity="0.38"/>
<line x1="812.04" y1="153.89" x2="757.18" y2="277.87" stroke="#56d8bf" stroke-width="0.7" stroke-opacity="0.38"/><polygon points="756.39,279.66 758.98,277.75 756.06,276.45" fill="#56d8bf" fill-opacity="0.38"/>
<line x1="795.62" y1="239.9" x2="759.2" y2="279.2" stroke="#56d8bf" stroke-width="0.6" stroke-opacity="0.38"/><polygon points="757.87,280.64 760.95,279.67 758.6,277.5" fill="#56d8bf" fill-opacity="0.38"/>
<circle cx="797.8" cy="105.1" r="3.7" fill="#e0633f"/>
<text x="797.8" y="115.41" font-size="6.7" fill="#efefef" text-anchor="middle" stroke="#1f1f1f" stroke-width="2" paint-order="stroke" stroke-linejoin="round">GAKPO</text>
<circle cx="815.4" cy="146.3" r="7.5" fill="#f86b40"/>
<text x="815.4" y="156.61" font-size="6.7" fill="#efefef" text-anchor="middle" stroke="#1f1f1f" stroke-width="2" paint-order="stroke" stroke-linejoin="round">DUMFRIES</text>
<circle cx="772.2" cy="184.6" r="5" fill="#e0633f"/>
<text x="772.2" y="194.91" font-size="6.7" fill="#efefef" text-anchor="middle" stroke="#1f1f1f" stroke-width="2" paint-order="stroke" stroke-linejoin="round">ROON</text>
<circle cx="730.7" cy="190.9" r="2.6" fill="#e0633f"/>
<text x="730.7" y="201.21" font-size="6.7" fill="#efefef" text-anchor="middle" stroke="#1f1f1f" stroke-width="2" paint-order="stroke" stroke-linejoin="round">DEPAY</text>
<circle cx="695.3" cy="201.1" r="6.5" fill="#f86b40"/>
<text x="695.3" y="211.41" font-size="6.7" fill="#efefef" text-anchor="middle" stroke="#1f1f1f" stroke-width="2" paint-order="stroke" stroke-linejoin="round">BLIND</text>
<circle cx="757" cy="211" r="3" fill="#f86b40"/>
<text x="757" y="221.31" font-size="6.7" fill="#efefef" text-anchor="middle" stroke="#1f1f1f" stroke-width="2" paint-order="stroke" stroke-linejoin="round">JONG</text>
<circle cx="760" cy="208.1" r="6.2" fill="#f86b40"/>
<text x="760" y="218.41" font-size="6.7" fill="#efefef" text-anchor="middle" stroke="#1f1f1f" stroke-width="2" paint-order="stroke" stroke-linejoin="round">KLAASSEN</text>
<circle cx="703.5" cy="219.9" r="3.8" fill="#f86b40"/>
<text x="703.5" y="230.21" font-size="6.7" fill="#efefef" text-anchor="middle" stroke="#1f1f1f" stroke-width="2" paint-order="stroke" stroke-linejoin="round">AKE</text>
<circle cx="754.2" cy="228.1" r="6.7" fill="#f86b40"/>
<text x="754.2" y="238.41" font-size="6.7" fill="#efefef" text-anchor="middle" stroke="#1f1f1f" stroke-width="2" paint-order="stroke" stroke-linejoin="round">DIJK</text>
<circle cx="799.7" cy="235.5" r="5.2" fill="#dc623e"/>
<text x="799.7" y="245.81" font-size="6.7" fill="#efefef" text-anchor="middle" stroke="#1f1f1f" stroke-width="2" paint-order="stroke" stroke-linejoin="round">TIMBER</text>
<circle cx="754.2" cy="284.6" r="4.8" fill="#f86b40"/>
<text x="754.2" y="294.91" font-size="6.7" fill="#efefef" text-anchor="middle" stroke="#1f1f1f" stroke-width="2" paint-order="stroke" stroke-linejoin="round">NOPPERT</text>
<rect x="237.8" y="348.2" width="174.5" height="269.5" fill="none" stroke="#494949" stroke-width="1.0"/>
<line x1="237.8" y1="482.95" x2="412.3" y2="482.95" fill="none" stroke="#494949" stroke-width="1.0"/>
<circle cx="325.05" cy="482.95" r="23.5" fill="none" stroke="#494949" stroke-width="1.0"/>
<circle cx="325.05" cy="482.95" r="1.4" fill="#494949"/>
<path d="M274.62,348.2 L274.62,394.01 L375.48,394.01 L375.48,348.2" fill="none" stroke="#494949" stroke-width="1.0"/>
<path d="M302.02,348.2 L302.02,363.83 L348.08,363.83 L348.08,348.2" fill="none" stroke="#494949" stroke-width="1.0"/>
<circle cx="325.05" cy="379.19" r="1.4" fill="#494949"/>
<path d="M306.81,394.01 A23.5,23.5 0 0 0 343.29,394.01" fill="none" stroke="#494949" stroke-width="1.0"/>
<line x1="316.67" y1="347.6" x2="333.43" y2="347.6" stroke="#494949" stroke-width="2"/>
<path d="M274.62,617.7 L274.62,571.88 L375.48,571.88 L375.48,617.7" fill="none" stroke="#494949" stroke-width="1.0"/>
<path d="M302.02,617.7 L302.02,602.07 L348.08,602.07 L348.08,617.7" fill="none" stroke="#494949" stroke-width="1.0"/>
<circle cx="325.05" cy="586.71" r="1.4" fill="#494949"/>
<path d="M306.81,571.88 A23.5,23.5 0 0 1 343.29,571.88" fill="none" stroke="#494949" stroke-width="1.0"/>
<line x1="316.67" y1="618.3" x2="333.43" y2="618.3" stroke="#494949" stroke-width="2"/>
<text x="305.7" y="370.2" font-size="12" fill="#e8e8e8" textLength="38.6" lengthAdjust="spacingAndGlyphs" stroke="#1f1f1f" stroke-width="1.6" paint-order="stroke" style="font-family:'Liberation Sans',sans-serif">47~62</text>
<line x1="265.77" y1="487.31" x2="289.85" y2="544.7" stroke="#56d8bf" stroke-width="1.3" stroke-opacity="0.68"/><polygon points="290.77,546.89 291.62,542.85 287.28,544.67" fill="#56d8bf" fill-opacity="0.68"/>
<line x1="294.38" y1="545.16" x2="270.79" y2="488.93" stroke="#56d8bf" stroke-width="2.2" stroke-opacity="0.95"/><polygon points="269.38,485.58 267.98,491.8 274.81,488.94" fill="#56d8bf" fill-opacity="0.95"/>
<line x1="317.4" y1="477.14" x2="272.27" y2="484.46" stroke="#56d8bf" stroke-width="1.4" stroke-opacity="0.95"/><polygon points="269.78,484.86 273.73,486.75 272.93,481.82" fill="#56d8bf" fill-opacity="0.95"/>
<line x1="269.34" y1="480.88" x2="315.02" y2="473.47" stroke="#56d8bf" stroke-width="0.7" stroke-opacity="0.38"/><polygon points="316.95,473.15 313.93,472.02 314.45,475.18" fill="#56d8bf" fill-opacity="0.38"/>
<line x1="344.5" y1="514.8" x2="301.33" y2="546.27" stroke="#56d8bf" stroke-width="1.6" stroke-opacity="0.95"/><polygon points="299.06,547.92 303.95,547.82 300.65,543.3" fill="#56d8bf" fill-opacity="0.95"/>
<line x1="353.23" y1="517.88" x2="354.59" y2="542.35" stroke="#56d8bf" stroke-width="2.0" stroke-opacity="0.95"/><polygon points="354.78,545.7 357.9,540.72 351.11,541.1" fill="#56d8bf" fill-opacity="0.95"/>
<line x1="350.77" y1="545.72" x2="349.33" y2="519.86" stroke="#56d8bf" stroke-width="1.0" stroke-opacity="0.68"/><polygon points="349.22,517.9 347.48,520.8 351.28,520.59" fill="#56d8bf" fill-opacity="0.68"/>
<line x1="356.71" y1="515.29" x2="378.22" y2="533.81" stroke="#56d8bf" stroke-width="1.5" stroke-opacity="0.95"/><polygon points="380.24,535.54 379.09,531.05 375.63,535.07" fill="#56d8bf" fill-opacity="0.95"/>
<line x1="329.25" y1="473.24" x2="369.36" y2="480.12" stroke="#56d8bf" stroke-width="1.4" stroke-opacity="0.95"/><polygon points="371.85,480.54 368.72,477.47 367.88,482.4" fill="#56d8bf" fill-opacity="0.95"/>
<line x1="370.97" y1="484.45" x2="330.31" y2="477.48" stroke="#56d8bf" stroke-width="0.7" stroke-opacity="0.38"/><polygon points="328.38,477.15 330.87,479.2 331.41,476.05" fill="#56d8bf" fill-opacity="0.38"/>
<line x1="375.25" y1="461.3" x2="330.53" y2="472.34" stroke="#56d8bf" stroke-width="0.7" stroke-opacity="0.38"/><polygon points="328.63,472.81 331.73,473.69 330.97,470.59" fill="#56d8bf" fill-opacity="0.38"/>
<line x1="381.56" y1="464.84" x2="381.29" y2="474.02" stroke="#56d8bf" stroke-width="1.2" stroke-opacity="0.68"/><polygon points="381.22,476.26 383.52,473.13 379.12,473" fill="#56d8bf" fill-opacity="0.68"/>
<line x1="377.23" y1="475.94" x2="377.51" y2="466.48" stroke="#56d8bf" stroke-width="0.9" stroke-opacity="0.68"/><polygon points="377.57,464.52 375.74,467.27 379.24,467.37" fill="#56d8bf" fill-opacity="0.68"/>
<line x1="382.02" y1="464.15" x2="391.59" y2="480.44" stroke="#56d8bf" stroke-width="1.3" stroke-opacity="0.68"/><polygon points="392.8,482.49 393.1,478.37 389.05,480.75" fill="#56d8bf" fill-opacity="0.68"/>
<line x1="373.31" y1="489.13" x2="357.78" y2="503.67" stroke="#56d8bf" stroke-width="1.0" stroke-opacity="0.68"/><polygon points="356.35,505.01 359.69,504.48 357.09,501.71" fill="#56d8bf" fill-opacity="0.68"/>
<line x1="397.09" y1="497.64" x2="390.02" y2="531.15" stroke="#56d8bf" stroke-width="1.3" stroke-opacity="0.68"/><polygon points="389.53,533.48 392.53,530.63 387.93,529.66" fill="#56d8bf" fill-opacity="0.68"/>
<line x1="385.65" y1="532.46" x2="392.81" y2="498.53" stroke="#56d8bf" stroke-width="1.0" stroke-opacity="0.68"/><polygon points="393.21,496.62 390.78,498.96 394.49,499.75" fill="#56d8bf" fill-opacity="0.68"/>
<line x1="392.24" y1="496" x2="358.58" y2="545.5" stroke="#56d8bf" stroke-width="0.7" stroke-opacity="0.38"/><polygon points="357.47,547.12 360.37,545.7 357.73,543.9" fill="#56d8bf" fill-opacity="0.38"/>
<line x1="364.59" y1="503.79" x2="355.43" y2="543.67" stroke="#56d8bf" stroke-width="1.3" stroke-opacity="0.68"/><polygon points="354.9,545.99 357.95,543.21 353.37,542.15" fill="#56d8bf" fill-opacity="0.68"/>
<line x1="379.47" y1="545.22" x2="364.13" y2="551.25" stroke="#56d8bf" stroke-width="2.0" stroke-opacity="0.95"/><polygon points="361,552.48 366.72,553.89 364.23,547.56" fill="#56d8bf" fill-opacity="0.95"/>
<line x1="359.73" y1="548.68" x2="376.37" y2="542.14" stroke="#56d8bf" stroke-width="0.8" stroke-opacity="0.38"/><polygon points="378.2,541.42 375,540.96 376.18,543.93" fill="#56d8bf" fill-opacity="0.38"/>
<line x1="351.82" y1="561.33" x2="338.65" y2="590.56" stroke="#56d8bf" stroke-width="1.2" stroke-opacity="0.68"/><polygon points="337.73,592.6 341.05,590.59 337.04,588.78" fill="#56d8bf" fill-opacity="0.68"/>
<line x1="334.17" y1="590.78" x2="347.45" y2="561.3" stroke="#56d8bf" stroke-width="0.8" stroke-opacity="0.38"/><polygon points="348.26,559.51 345.65,561.4 348.56,562.72" fill="#56d8bf" fill-opacity="0.38"/>
<line x1="349.26" y1="517.85" x2="334.89" y2="589.41" stroke="#56d8bf" stroke-width="1.0" stroke-opacity="0.68"/><polygon points="334.5,591.33 336.91,588.96 333.19,588.21" fill="#56d8bf" fill-opacity="0.68"/>
<line x1="380.71" y1="546.24" x2="339" y2="591.51" stroke="#56d8bf" stroke-width="0.7" stroke-opacity="0.38"/><polygon points="337.67,592.95 340.75,591.97 338.39,589.8" fill="#56d8bf" fill-opacity="0.38"/>
<line x1="300.41" y1="548.32" x2="343.77" y2="550.03" stroke="#56d8bf" stroke-width="0.7" stroke-opacity="0.38"/><polygon points="345.72,550.1 342.99,548.39 342.86,551.59" fill="#56d8bf" fill-opacity="0.38"/>
<line x1="345.29" y1="556.09" x2="301.94" y2="554.39" stroke="#56d8bf" stroke-width="0.7" stroke-opacity="0.38"/><polygon points="299.98,554.31 302.71,556.02 302.84,552.82" fill="#56d8bf" fill-opacity="0.38"/>
<line x1="269.54" y1="484.43" x2="341.69" y2="507.31" stroke="#56d8bf" stroke-width="0.6" stroke-opacity="0.38"/><polygon points="343.56,507.9 341.37,505.53 340.4,508.58" fill="#56d8bf" fill-opacity="0.38"/>
<line x1="328.88" y1="475.4" x2="387.14" y2="487.32" stroke="#56d8bf" stroke-width="0.7" stroke-opacity="0.38"/><polygon points="389.06,487.72 386.64,485.59 386,488.72" fill="#56d8bf" fill-opacity="0.38"/>
<line x1="326.67" y1="478.95" x2="344.96" y2="502.63" stroke="#56d8bf" stroke-width="0.7" stroke-opacity="0.38"/><polygon points="346.15,504.18 345.71,500.99 343.18,502.95" fill="#56d8bf" fill-opacity="0.38"/>
<line x1="269.66" y1="483.9" x2="358.38" y2="496.99" stroke="#56d8bf" stroke-width="0.6" stroke-opacity="0.38"/><polygon points="360.32,497.28 357.78,495.28 357.32,498.45" fill="#56d8bf" fill-opacity="0.38"/>
<circle cx="266.3" cy="483.4" r="2.6" fill="#f86b40"/>
<text x="266.3" y="493.71" font-size="6.7" fill="#efefef" text-anchor="middle" stroke="#1f1f1f" stroke-width="2" paint-order="stroke" stroke-linejoin="round">BLIND</text>
<circle cx="323" cy="474.2" r="5.2" fill="#f86b40"/>
<text x="323" y="484.51" font-size="6.7" fill="#efefef" text-anchor="middle" stroke="#1f1f1f" stroke-width="2" paint-order="stroke" stroke-linejoin="round">DEPAY</text>
<polygon points="381.82,455.96 383.94,458.08 381.82,460.2 383.94,462.32 381.82,464.44 379.7,462.32 377.58,464.44 375.46,462.32 377.58,460.2 375.46,458.08 377.58,455.96 379.7,458.08" fill="#f86b40" stroke="none" stroke-width="0" stroke-linejoin="miter"/>
<text x="379.7" y="470.51" font-size="6.7" fill="#efefef" text-anchor="middle" stroke="#1f1f1f" stroke-width="2" paint-order="stroke" stroke-linejoin="round">BERGWIJN</text>
<circle cx="379" cy="483.8" r="7" fill="#f86b40"/>
<text x="379" y="494.11" font-size="6.7" fill="#efefef" text-anchor="middle" stroke="#1f1f1f" stroke-width="2" paint-order="stroke" stroke-linejoin="round">GAKPO</text>
<circle cx="396.8" cy="489.3" r="7.3" fill="#f86b40"/>
<text x="396.8" y="499.61" font-size="6.7" fill="#efefef" text-anchor="middle" stroke="#1f1f1f" stroke-width="2" paint-order="stroke" stroke-linejoin="round">DUMFRIES</text>
<polygon points="368.73,492.44 371.56,495.27 368.73,498.1 371.56,500.93 368.73,503.76 365.9,500.93 363.07,503.76 360.24,500.93 363.07,498.1 360.24,495.27 363.07,492.44 365.9,495.27" fill="#f86b40" stroke="none" stroke-width="0" stroke-linejoin="miter"/>
<text x="365.9" y="508.41" font-size="6.7" fill="#efefef" text-anchor="middle" stroke="#1f1f1f" stroke-width="2" paint-order="stroke" stroke-linejoin="round">KOOPMEINERS</text>
<circle cx="350.8" cy="510.2" r="7" fill="#f86b40"/>
<text x="350.8" y="520.51" font-size="6.7" fill="#efefef" text-anchor="middle" stroke="#1f1f1f" stroke-width="2" paint-order="stroke" stroke-linejoin="round">JONG</text>
<circle cx="386" cy="540.5" r="7" fill="#f86b40"/>
<text x="386" y="550.81" font-size="6.7" fill="#efefef" text-anchor="middle" stroke="#1f1f1f" stroke-width="2" paint-order="stroke" stroke-linejoin="round">TIMBER</text>
<circle cx="294.7" cy="551.1" r="4.8" fill="#f86b40"/>
<text x="294.7" y="561.41" font-size="6.7" fill="#efefef" text-anchor="middle" stroke="#1f1f1f" stroke-width="2" paint-order="stroke" stroke-linejoin="round">AKE</text>
<circle cx="353.2" cy="553.4" r="7" fill="#f86b40"/>
<text x="353.2" y="563.71" font-size="6.7" fill="#efefef" text-anchor="middle" stroke="#1f1f1f" stroke-width="2" paint-order="stroke" stroke-linejoin="round">DIJK</text>
<circle cx="333.2" cy="597.8" r="6" fill="#f86b40"/>
<text x="333.2" y="608.11" font-size="6.7" fill="#efefef" text-anchor="middle" stroke="#1f1f1f" stroke-width="2" paint-order="stroke" stroke-linejoin="round">NOPPERT</text>
<rect x="447.9" y="348.2" width="174.5" height="269.5" fill="none" stroke="#494949" stroke-width="1.0"/>
<line x1="447.9" y1="482.95" x2="622.4" y2="482.95" fill="none" stroke="#494949" stroke-width="1.0"/>
<circle cx="535.15" cy="482.95" r="23.5" fill="none" stroke="#494949" stroke-width="1.0"/>
<circle cx="535.15" cy="482.95" r="1.4" fill="#494949"/>
<path d="M484.72,348.2 L484.72,394.01 L585.58,394.01 L585.58,348.2" fill="none" stroke="#494949" stroke-width="1.0"/>
<path d="M512.12,348.2 L512.12,363.83 L558.18,363.83 L558.18,348.2" fill="none" stroke="#494949" stroke-width="1.0"/>
<circle cx="535.15" cy="379.19" r="1.4" fill="#494949"/>
<path d="M516.91,394.01 A23.5,23.5 0 0 0 553.39,394.01" fill="none" stroke="#494949" stroke-width="1.0"/>
<line x1="526.77" y1="347.6" x2="543.53" y2="347.6" stroke="#494949" stroke-width="2"/>
<path d="M484.72,617.7 L484.72,571.88 L585.58,571.88 L585.58,617.7" fill="none" stroke="#494949" stroke-width="1.0"/>
<path d="M512.12,617.7 L512.12,602.07 L558.18,602.07 L558.18,617.7" fill="none" stroke="#494949" stroke-width="1.0"/>
<circle cx="535.15" cy="586.71" r="1.4" fill="#494949"/>
<path d="M516.91,571.88 A23.5,23.5 0 0 1 553.39,571.88" fill="none" stroke="#494949" stroke-width="1.0"/>
<line x1="526.77" y1="618.3" x2="543.53" y2="618.3" stroke="#494949" stroke-width="2"/>
<text x="516.2" y="370.2" font-size="12" fill="#e8e8e8" textLength="37.6" lengthAdjust="spacingAndGlyphs" stroke="#1f1f1f" stroke-width="1.6" paint-order="stroke" style="font-family:'Liberation Sans',sans-serif">62~77</text>
<line x1="470.27" y1="508.04" x2="546.91" y2="451.09" stroke="#56d8bf" stroke-width="2.0" stroke-opacity="0.95"/><polygon points="549.61,449.08 543.73,449.22 547.79,454.68" fill="#56d8bf" fill-opacity="0.95"/>
<line x1="551.84" y1="452.41" x2="474.07" y2="510.2" stroke="#56d8bf" stroke-width="0.8" stroke-opacity="0.38"/><polygon points="472.49,511.37 475.7,510.99 473.79,508.42" fill="#56d8bf" fill-opacity="0.38"/>
<line x1="471.93" y1="510.35" x2="546.69" y2="465.79" stroke="#56d8bf" stroke-width="0.9" stroke-opacity="0.68"/><polygon points="548.37,464.79 545.07,464.72 546.86,467.73" fill="#56d8bf" fill-opacity="0.68"/>
<line x1="471.85" y1="510.23" x2="535.01" y2="471.08" stroke="#56d8bf" stroke-width="1.2" stroke-opacity="0.68"/><polygon points="536.91,469.9 533.03,469.72 535.35,473.45" fill="#56d8bf" fill-opacity="0.68"/>
<line x1="528.33" y1="508.09" x2="475.73" y2="515.15" stroke="#56d8bf" stroke-width="1.5" stroke-opacity="0.95"/><polygon points="473.09,515.51 477.21,517.63 476.51,512.37" fill="#56d8bf" fill-opacity="0.95"/>
<line x1="472.76" y1="511.51" x2="526.06" y2="504.36" stroke="#56d8bf" stroke-width="0.7" stroke-opacity="0.38"/><polygon points="528,504.1 525.01,502.89 525.44,506.06" fill="#56d8bf" fill-opacity="0.38"/>
<line x1="544.36" y1="497.16" x2="474.63" y2="512.45" stroke="#56d8bf" stroke-width="0.7" stroke-opacity="0.38"/><polygon points="472.71,512.87 475.79,513.83 475.1,510.7" fill="#56d8bf" fill-opacity="0.38"/>
<line x1="561.31" y1="465.34" x2="579.42" y2="477.88" stroke="#56d8bf" stroke-width="1.1" stroke-opacity="0.68"/><polygon points="581.15,479.07 579.85,475.68 577.52,479.05" fill="#56d8bf" fill-opacity="0.68"/>
<line x1="541.75" y1="473.46" x2="537.39" y2="495.91" stroke="#56d8bf" stroke-width="1.0" stroke-opacity="0.68"/><polygon points="537.01,497.84 539.41,495.45 535.68,494.72" fill="#56d8bf" fill-opacity="0.68"/>
<line x1="554.03" y1="468.65" x2="551.95" y2="487.19" stroke="#56d8bf" stroke-width="1.0" stroke-opacity="0.68"/><polygon points="551.74,489.14 553.94,486.57 550.16,486.15" fill="#56d8bf" fill-opacity="0.68"/>
<line x1="557.75" y1="496.54" x2="579.04" y2="499.19" stroke="#56d8bf" stroke-width="1.2" stroke-opacity="0.68"/><polygon points="581.26,499.46 578.35,496.88 577.81,501.25" fill="#56d8bf" fill-opacity="0.68"/>
<line x1="565.01" y1="498.77" x2="578.84" y2="499.72" stroke="#56d8bf" stroke-width="1.3" stroke-opacity="0.68"/><polygon points="581.22,499.88 577.99,497.3 577.67,501.99" fill="#56d8bf" fill-opacity="0.68"/>
<line x1="580.54" y1="487.1" x2="566.17" y2="494.86" stroke="#56d8bf" stroke-width="1.2" stroke-opacity="0.68"/><polygon points="564.19,495.92 568.05,496.34 565.97,492.47" fill="#56d8bf" fill-opacity="0.68"/>
<line x1="580.21" y1="486.41" x2="544.23" y2="501.48" stroke="#56d8bf" stroke-width="0.7" stroke-opacity="0.38"/><polygon points="542.43,502.24 545.63,502.63 544.39,499.68" fill="#56d8bf" fill-opacity="0.38"/>
<line x1="532.26" y1="511.93" x2="513.68" y2="549.98" stroke="#56d8bf" stroke-width="1.3" stroke-opacity="0.68"/><polygon points="512.64,552.12 516.24,550.09 512.02,548.03" fill="#56d8bf" fill-opacity="0.68"/>
<line x1="470.9" y1="520.23" x2="505.21" y2="551.91" stroke="#56d8bf" stroke-width="0.7" stroke-opacity="0.38"/><polygon points="506.65,553.24 505.68,550.17 503.51,552.52" fill="#56d8bf" fill-opacity="0.38"/>
<line x1="514.63" y1="559.89" x2="540.92" y2="579.68" stroke="#56d8bf" stroke-width="0.7" stroke-opacity="0.38"/><polygon points="542.48,580.86 541.21,577.89 539.28,580.45" fill="#56d8bf" fill-opacity="0.38"/>
<line x1="552.54" y1="502.62" x2="547.55" y2="577.68" stroke="#56d8bf" stroke-width="0.8" stroke-opacity="0.38"/><polygon points="547.42,579.64 549.2,576.95 546.01,576.74" fill="#56d8bf" fill-opacity="0.38"/>
<line x1="560.66" y1="504.08" x2="548.07" y2="577.95" stroke="#56d8bf" stroke-width="0.8" stroke-opacity="0.38"/><polygon points="547.74,579.88 549.79,577.39 546.64,576.86" fill="#56d8bf" fill-opacity="0.38"/>
<line x1="536.53" y1="512.64" x2="544.54" y2="577.58" stroke="#56d8bf" stroke-width="0.6" stroke-opacity="0.38"/><polygon points="544.78,579.53 546.03,576.55 542.85,576.94" fill="#56d8bf" fill-opacity="0.38"/>
<line x1="555.24" y1="453.24" x2="555.32" y2="451.35" stroke="#56d8bf" stroke-width="1.0" stroke-opacity="0.68"/><polygon points="555.23,453.31 557.25,450.59 553.46,450.43" fill="#56d8bf" fill-opacity="0.68"/>
<polygon points="558.45,441.31 561.39,444.25 558.45,447.2 561.39,450.15 558.45,453.09 555.5,450.15 552.55,453.09 549.61,450.15 552.55,447.2 549.61,444.25 552.55,441.31 555.5,444.25" fill="#f86b40" stroke="none" stroke-width="0" stroke-linejoin="miter"/>
<text x="555.5" y="457.51" font-size="6.7" fill="#efefef" text-anchor="middle" stroke="#1f1f1f" stroke-width="2" paint-order="stroke" stroke-linejoin="round">BERGWIJN</text>
<circle cx="554.9" cy="460.9" r="7" fill="#f86b40"/>
<text x="554.9" y="471.21" font-size="6.7" fill="#efefef" text-anchor="middle" stroke="#1f1f1f" stroke-width="2" paint-order="stroke" stroke-linejoin="round">GAKPO</text>
<circle cx="543.2" cy="466" r="6.8" fill="#f86b40"/>
<text x="543.2" y="476.31" font-size="6.7" fill="#efefef" text-anchor="middle" stroke="#1f1f1f" stroke-width="2" paint-order="stroke" stroke-linejoin="round">DEPAY</text>
<circle cx="587.4" cy="483.4" r="7" fill="#f86b40"/>
<text x="587.4" y="493.71" font-size="6.7" fill="#efefef" text-anchor="middle" stroke="#1f1f1f" stroke-width="2" paint-order="stroke" stroke-linejoin="round">DUMFRIES</text>
<circle cx="551" cy="495.7" r="6" fill="#f86b40"/>
<text x="551" y="506.01" font-size="6.7" fill="#efefef" text-anchor="middle" stroke="#1f1f1f" stroke-width="2" paint-order="stroke" stroke-linejoin="round">DIJK</text>
<polygon points="562.19,493.21 564.79,495.81 562.19,498.4 564.79,500.99 562.19,503.59 559.6,500.99 557.01,503.59 554.41,500.99 557.01,498.4 554.41,495.81 557.01,493.21 559.6,495.81" fill="#f86b40" stroke="none" stroke-width="0" stroke-linejoin="miter"/>
<text x="559.6" y="508.71" font-size="6.7" fill="#efefef" text-anchor="middle" stroke="#1f1f1f" stroke-width="2" paint-order="stroke" stroke-linejoin="round">KOOPMEINERS</text>
<circle cx="535.6" cy="505.1" r="6.8" fill="#f86b40"/>
<text x="535.6" y="515.41" font-size="6.7" fill="#efefef" text-anchor="middle" stroke="#1f1f1f" stroke-width="2" paint-order="stroke" stroke-linejoin="round">JONG</text>
<circle cx="588.8" cy="500.4" r="7" fill="#f86b40"/>
<text x="588.8" y="510.71" font-size="6.7" fill="#efefef" text-anchor="middle" stroke="#1f1f1f" stroke-width="2" paint-order="stroke" stroke-linejoin="round">TIMBER</text>
<circle cx="464.8" cy="514.6" r="7.5" fill="#f86b40"/>
<text x="464.8" y="524.91" font-size="6.7" fill="#efefef" text-anchor="middle" stroke="#1f1f1f" stroke-width="2" paint-order="stroke" stroke-linejoin="round">BLIND</text>
<circle cx="510.4" cy="556.7" r="4.5" fill="#f86b40"/>
<text x="510.4" y="567.01" font-size="6.7" fill="#efefef" text-anchor="middle" stroke="#1f1f1f" stroke-width="2" paint-order="stroke" stroke-linejoin="round">AKE</text>
<circle cx="545.2" cy="582.9" r="2.8" fill="#f86b40"/>
<text x="545.2" y="593.21" font-size="6.7" fill="#efefef" text-anchor="middle" stroke="#1f1f1f" stroke-width="2" paint-order="stroke" stroke-linejoin="round">NOPPERT</text>
<polygon points="543.2,480.5 546.2,475.1 540.2,475.1" fill="#f86b40"/>
<rect x="658" y="348.2" width="174.5" height="269.5" fill="none" stroke="#494949" stroke-width="1.0"/>
<line x1="658" y1="482.95" x2="832.5" y2="482.95" fill="none" stroke="#494949" stroke-width="1.0"/>
<circle cx="745.25" cy="482.95" r="23.5" fill="none" stroke="#494949" stroke-width="1.0"/>
<circle cx="745.25" cy="482.95" r="1.4" fill="#494949"/>
<path d="M694.82,348.2 L694.82,394.01 L795.68,394.01 L795.68,348.2" fill="none" stroke="#494949" stroke-width="1.0"/>
<path d="M722.22,348.2 L722.22,363.83 L768.28,363.83 L768.28,348.2" fill="none" stroke="#494949" stroke-width="1.0"/>
<circle cx="745.25" cy="379.19" r="1.4" fill="#494949"/>
<path d="M727.01,394.01 A23.5,23.5 0 0 0 763.49,394.01" fill="none" stroke="#494949" stroke-width="1.0"/>
<line x1="736.87" y1="347.6" x2="753.63" y2="347.6" stroke="#494949" stroke-width="2"/>
<path d="M694.82,617.7 L694.82,571.88 L795.68,571.88 L795.68,617.7" fill="none" stroke="#494949" stroke-width="1.0"/>
<path d="M722.22,617.7 L722.22,602.07 L768.28,602.07 L768.28,617.7" fill="none" stroke="#494949" stroke-width="1.0"/>
<circle cx="745.25" cy="586.71" r="1.4" fill="#494949"/>
<path d="M727.01,571.88 A23.5,23.5 0 0 1 763.49,571.88" fill="none" stroke="#494949" stroke-width="1.0"/>
<line x1="736.87" y1="618.3" x2="753.63" y2="618.3" stroke="#494949" stroke-width="2"/>
<text x="726.5" y="370.2" font-size="12" fill="#e8e8e8" textLength="38" lengthAdjust="spacingAndGlyphs" stroke="#1f1f1f" stroke-width="1.6" paint-order="stroke" style="font-family:'Liberation Sans',sans-serif">77~98</text>
<line x1="756.71" y1="407.62" x2="725.1" y2="494.05" stroke="#56d8bf" stroke-width="2.4" stroke-opacity="0.95"/><polygon points="723.75,497.73 729.43,493.85 721.92,491.1" fill="#56d8bf" fill-opacity="0.95"/>
<line x1="718.19" y1="495.48" x2="750.47" y2="407.21" stroke="#56d8bf" stroke-width="1.0" stroke-opacity="0.68"/><polygon points="751.15,405.37 748.4,407.34 751.97,408.65" fill="#56d8bf" fill-opacity="0.68"/>
<line x1="760.16" y1="405.56" x2="783.72" y2="456.58" stroke="#56d8bf" stroke-width="1.2" stroke-opacity="0.68"/><polygon points="784.66,458.61 785.32,454.79 781.32,456.63" fill="#56d8bf" fill-opacity="0.68"/>
<line x1="780.95" y1="460.11" x2="757.27" y2="408.84" stroke="#56d8bf" stroke-width="0.9" stroke-opacity="0.68"/><polygon points="756.45,407.06 756.03,410.33 759.21,408.87" fill="#56d8bf" fill-opacity="0.68"/>
<line x1="754.87" y1="406.85" x2="742.7" y2="474.74" stroke="#56d8bf" stroke-width="0.6" stroke-opacity="0.38"/><polygon points="742.36,476.67 744.43,474.19 741.28,473.63" fill="#56d8bf" fill-opacity="0.38"/>
<line x1="757.79" y1="406.98" x2="756.18" y2="493.48" stroke="#56d8bf" stroke-width="0.7" stroke-opacity="0.38"/><polygon points="756.15,495.44 757.8,492.67 754.6,492.61" fill="#56d8bf" fill-opacity="0.38"/>
<line x1="752.15" y1="495.16" x2="753.76" y2="408.66" stroke="#56d8bf" stroke-width="0.6" stroke-opacity="0.38"/><polygon points="753.8,406.7 752.14,409.47 755.34,409.53" fill="#56d8bf" fill-opacity="0.38"/>
<line x1="752.94" y1="406.13" x2="688.64" y2="515.26" stroke="#56d8bf" stroke-width="0.6" stroke-opacity="0.38"/><polygon points="687.64,516.95 690.44,515.35 687.68,513.72" fill="#56d8bf" fill-opacity="0.38"/>
<line x1="746.68" y1="507.31" x2="694.56" y2="521.11" stroke="#56d8bf" stroke-width="2.5" stroke-opacity="0.95"/><polygon points="690.63,522.15 697.3,524.68 695.18,516.65" fill="#56d8bf" fill-opacity="0.95"/>
<line x1="688.76" y1="517.08" x2="711.29" y2="504.12" stroke="#56d8bf" stroke-width="1.1" stroke-opacity="0.68"/><polygon points="713.11,503.08 709.49,502.79 711.53,506.35" fill="#56d8bf" fill-opacity="0.68"/>
<line x1="714.93" y1="506.64" x2="692.28" y2="519.67" stroke="#56d8bf" stroke-width="0.8" stroke-opacity="0.38"/><polygon points="690.58,520.64 693.8,520.63 692.21,517.86" fill="#56d8bf" fill-opacity="0.38"/>
<line x1="780.15" y1="465.76" x2="747.43" y2="478.61" stroke="#56d8bf" stroke-width="0.7" stroke-opacity="0.38"/><polygon points="745.6,479.33 748.79,479.79 747.62,476.82" fill="#56d8bf" fill-opacity="0.38"/>
<line x1="723.5" y1="505.72" x2="780.97" y2="553.32" stroke="#56d8bf" stroke-width="1.3" stroke-opacity="0.68"/><polygon points="782.8,554.84 781.68,550.86 778.69,554.48" fill="#56d8bf" fill-opacity="0.68"/>
<line x1="717.57" y1="576.82" x2="740.08" y2="486.97" stroke="#56d8bf" stroke-width="0.6" stroke-opacity="0.38"/><polygon points="740.56,485.07 738.32,487.4 741.43,488.18" fill="#56d8bf" fill-opacity="0.38"/>
<line x1="769.17" y1="548.82" x2="751.11" y2="590.01" stroke="#56d8bf" stroke-width="0.6" stroke-opacity="0.38"/><polygon points="750.33,591.8 752.92,589.88 749.99,588.6" fill="#56d8bf" fill-opacity="0.38"/>
<line x1="762.25" y1="502.09" x2="793.77" y2="505.13" stroke="#56d8bf" stroke-width="1.0" stroke-opacity="0.68"/><polygon points="795.72,505.32 793.12,503.16 792.75,506.94" fill="#56d8bf" fill-opacity="0.68"/>
<line x1="795.14" y1="509.28" x2="763.62" y2="506.24" stroke="#56d8bf" stroke-width="0.7" stroke-opacity="0.38"/><polygon points="761.67,506.05 764.3,507.91 764.61,504.73" fill="#56d8bf" fill-opacity="0.38"/>
<line x1="743.78" y1="484.84" x2="749.22" y2="494.67" stroke="#56d8bf" stroke-width="0.8" stroke-opacity="0.38"/><polygon points="750.17,496.39 750.22,493.16 747.42,494.71" fill="#56d8bf" fill-opacity="0.38"/>
<line x1="716.09" y1="576.61" x2="718.7" y2="509.59" stroke="#56d8bf" stroke-width="0.6" stroke-opacity="0.38"/><polygon points="718.78,507.64 717.07,510.37 720.27,510.5" fill="#56d8bf" fill-opacity="0.38"/>
<line x1="718.93" y1="577.3" x2="749.78" y2="512.21" stroke="#56d8bf" stroke-width="0.6" stroke-opacity="0.38"/><polygon points="750.62,510.44 747.97,512.28 750.86,513.65" fill="#56d8bf" fill-opacity="0.38"/>
<line x1="688.53" y1="525.86" x2="744.02" y2="591.05" stroke="#56d8bf" stroke-width="0.6" stroke-opacity="0.38"/><polygon points="745.29,592.54 744.69,589.38 742.26,591.45" fill="#56d8bf" fill-opacity="0.38"/>
<line x1="782.97" y1="561.44" x2="753.17" y2="591.41" stroke="#56d8bf" stroke-width="0.7" stroke-opacity="0.38"/><polygon points="751.79,592.8 754.89,591.94 752.63,589.68" fill="#56d8bf" fill-opacity="0.38"/>
<line x1="722.63" y1="586.48" x2="742.08" y2="593.81" stroke="#56d8bf" stroke-width="0.7" stroke-opacity="0.38"/><polygon points="743.91,594.51 741.85,592.02 740.72,595.01" fill="#56d8bf" fill-opacity="0.38"/>
<line x1="772.06" y1="520.68" x2="794.2" y2="511.1" stroke="#56d8bf" stroke-width="0.6" stroke-opacity="0.38"/><polygon points="796,510.32 792.8,509.97 794.07,512.9" fill="#56d8bf" fill-opacity="0.38"/>
<line x1="786.71" y1="468.67" x2="798.74" y2="500.36" stroke="#56d8bf" stroke-width="0.6" stroke-opacity="0.38"/><polygon points="799.44,502.2 799.94,499.01 796.95,500.15" fill="#56d8bf" fill-opacity="0.38"/>
<line x1="799.78" y1="513.93" x2="788.45" y2="551.43" stroke="#56d8bf" stroke-width="0.6" stroke-opacity="0.38"/><polygon points="787.89,553.3 790.23,551.09 787.17,550.16" fill="#56d8bf" fill-opacity="0.38"/>
<line x1="758.39" y1="510.11" x2="762.58" y2="516.61" stroke="#56d8bf" stroke-width="0.7" stroke-opacity="0.38"/><polygon points="763.64,518.26 763.47,515.04 760.78,516.77" fill="#56d8bf" fill-opacity="0.38"/>
<circle cx="784.9" cy="463.9" r="4.3" fill="#f86b40"/>
<text x="784.9" y="474.21" font-size="6.7" fill="#efefef" text-anchor="middle" stroke="#1f1f1f" stroke-width="2" paint-order="stroke" stroke-linejoin="round">GAKPO</text>
<circle cx="741.6" cy="480.9" r="3.7" fill="#f86b40"/>
<text x="741.6" y="491.21" font-size="6.7" fill="#efefef" text-anchor="middle" stroke="#1f1f1f" stroke-width="2" paint-order="stroke" stroke-linejoin="round">DEPAY</text>
<circle cx="754" cy="503.3" r="7.3" fill="#f86b40"/>
<text x="754" y="513.61" font-size="6.7" fill="#efefef" text-anchor="middle" stroke="#1f1f1f" stroke-width="2" paint-order="stroke" stroke-linejoin="round">JONG</text>
<circle cx="801.6" cy="507.9" r="5.5" fill="#8e4530"/>
<text x="801.6" y="518.21" font-size="6.7" fill="#9a9a9a" text-anchor="middle" stroke="#1f1f1f" stroke-width="2" paint-order="stroke" stroke-linejoin="round">DUMFRIES</text>
<circle cx="684.9" cy="521.6" r="4.8" fill="#f86b40"/>
<text x="684.9" y="531.91" font-size="6.7" fill="#efefef" text-anchor="middle" stroke="#1f1f1f" stroke-width="2" paint-order="stroke" stroke-linejoin="round">BLIND</text>
<circle cx="770.5" cy="545.8" r="2.5" fill="#f86b40"/>
<text x="770.5" y="556.11" font-size="6.7" fill="#efefef" text-anchor="middle" stroke="#1f1f1f" stroke-width="2" paint-order="stroke" stroke-linejoin="round">DIJK</text>
<circle cx="786.5" cy="557.9" r="4.2" fill="#f86b40"/>
<text x="786.5" y="568.21" font-size="6.7" fill="#efefef" text-anchor="middle" stroke="#1f1f1f" stroke-width="2" paint-order="stroke" stroke-linejoin="round">TIMBER</text>
<circle cx="715.8" cy="583.9" r="6.5" fill="#f86b40"/>
<text x="715.8" y="594.21" font-size="6.7" fill="#efefef" text-anchor="middle" stroke="#1f1f1f" stroke-width="2" paint-order="stroke" stroke-linejoin="round">AKE</text>
<circle cx="748.4" cy="596.2" r="4.2" fill="#f86b40"/>
<text x="748.4" y="606.51" font-size="6.7" fill="#efefef" text-anchor="middle" stroke="#1f1f1f" stroke-width="2" paint-order="stroke" stroke-linejoin="round">NOPPERT</text>
<polygon points="758.73,395.44 761.56,398.27 758.73,401.1 761.56,403.93 758.73,406.76 755.9,403.93 753.07,406.76 750.24,403.93 753.07,401.1 750.24,398.27 753.07,395.44 755.9,398.27" fill="#f86b40" stroke="none" stroke-width="0" stroke-linejoin="miter"/>
<text x="755.9" y="411.41" font-size="6.7" fill="#efefef" text-anchor="middle" stroke="#1f1f1f" stroke-width="2" paint-order="stroke" stroke-linejoin="round">BERGWIJN</text>
<polygon points="721.83,496.34 724.66,499.17 721.83,502 724.66,504.83 721.83,507.66 719,504.83 716.17,507.66 713.34,504.83 716.17,502 713.34,499.17 716.17,496.34 719,499.17" fill="#f86b40" stroke="none" stroke-width="0" stroke-linejoin="miter"/>
<text x="719" y="512.31" font-size="6.7" fill="#efefef" text-anchor="middle" stroke="#1f1f1f" stroke-width="2" paint-order="stroke" stroke-linejoin="round">SIMONS</text>
<polygon points="769.53,517.34 772.36,520.17 769.53,523 772.36,525.83 769.53,528.66 766.7,525.83 763.87,528.66 761.04,525.83 763.87,523 761.04,520.17 763.87,517.34 766.7,520.17" fill="#f86b40" stroke="none" stroke-width="0" stroke-linejoin="miter"/>
<text x="766.7" y="533.31" font-size="6.7" fill="#efefef" text-anchor="middle" stroke="#1f1f1f" stroke-width="2" paint-order="stroke" stroke-linejoin="round">KOOPMEINERS</text>
<polygon points="705.1,502 710.14,499.2 710.14,504.8" fill="#f86b40"/>
<polygon points="733,502 727.96,499.2 727.96,504.8" fill="#f86b40"/>
<polygon points="739.4,503.3 744.62,500.4 744.62,506.2" fill="#f86b40"/>
<polygon points="768,503.3 762.78,500.4 762.78,506.2" fill="#f86b40"/>

<g font-family="Liberation Sans, sans-serif">
<text x="84" y="172.1" font-size="14" fill="#f2f2f2" textLength="62.4" lengthAdjust="spacingAndGlyphs" style="font-family:'Liberation Sans',sans-serif">PASSMAP</text>
<text x="70" y="212.4" font-size="7" fill="#dedede" textLength="89.6" lengthAdjust="spacingAndGlyphs" style="font-family:'Liberation Sans',sans-serif">Line size = Number of passes</text>
<text x="67.7" y="219.8" font-size="7" fill="#dedede" textLength="96.2" lengthAdjust="spacingAndGlyphs" style="font-family:'Liberation Sans',sans-serif">Node size = Number of touches</text>
<text x="74" y="227.2" font-size="7" fill="#dedede" textLength="84.8" lengthAdjust="spacingAndGlyphs" style="font-family:'Liberation Sans',sans-serif">Triangle = Player movement</text>
<text x="39.8" y="257" font-size="8.4" fill="#e2e2e2" textLength="150.2" lengthAdjust="spacingAndGlyphs" style="font-family:'Liberation Sans',sans-serif">WORLD CUP FINAL STAGE ROUND OF 16</text>
<rect x="76.6" y="270.4" width="76.2" height="17.7" rx="3.2" fill="#c6563b"/>
<text x="80.9" y="282.1" font-size="10.3" fill="#f6e9e2" textLength="67.6" lengthAdjust="spacingAndGlyphs" style="font-family:'Liberation Sans',sans-serif">NETHERLANDS</text>
<rect x="86.5" y="357.9" width="57" height="18.1" rx="3.2" fill="#c6563b"/>
<text x="90.3" y="369.7" font-size="10.5" fill="#f6e9e2" textLength="48.8" lengthAdjust="spacingAndGlyphs" style="font-family:'Liberation Sans',sans-serif">FULL TIME</text>
<text x="89.4" y="387.6" font-size="6.7" fill="#e2e2e2" textLength="51.2" lengthAdjust="spacingAndGlyphs" style="font-family:'Liberation Sans',sans-serif">Color = xT via pass</text>
<text x="33.6" y="612" font-size="6" fill="#d0d0d0" textLength="71" lengthAdjust="spacingAndGlyphs" style="font-family:'Liberation Sans',sans-serif">SUB : X (O+30 TOUCHES)</text>
<text x="145.6" y="612" font-size="6" fill="#d0d0d0" textLength="49.8" lengthAdjust="spacingAndGlyphs" style="font-family:'Liberation Sans',sans-serif">@DatoBHJ(twitter)</text>
</g>

</svg></body></html>
